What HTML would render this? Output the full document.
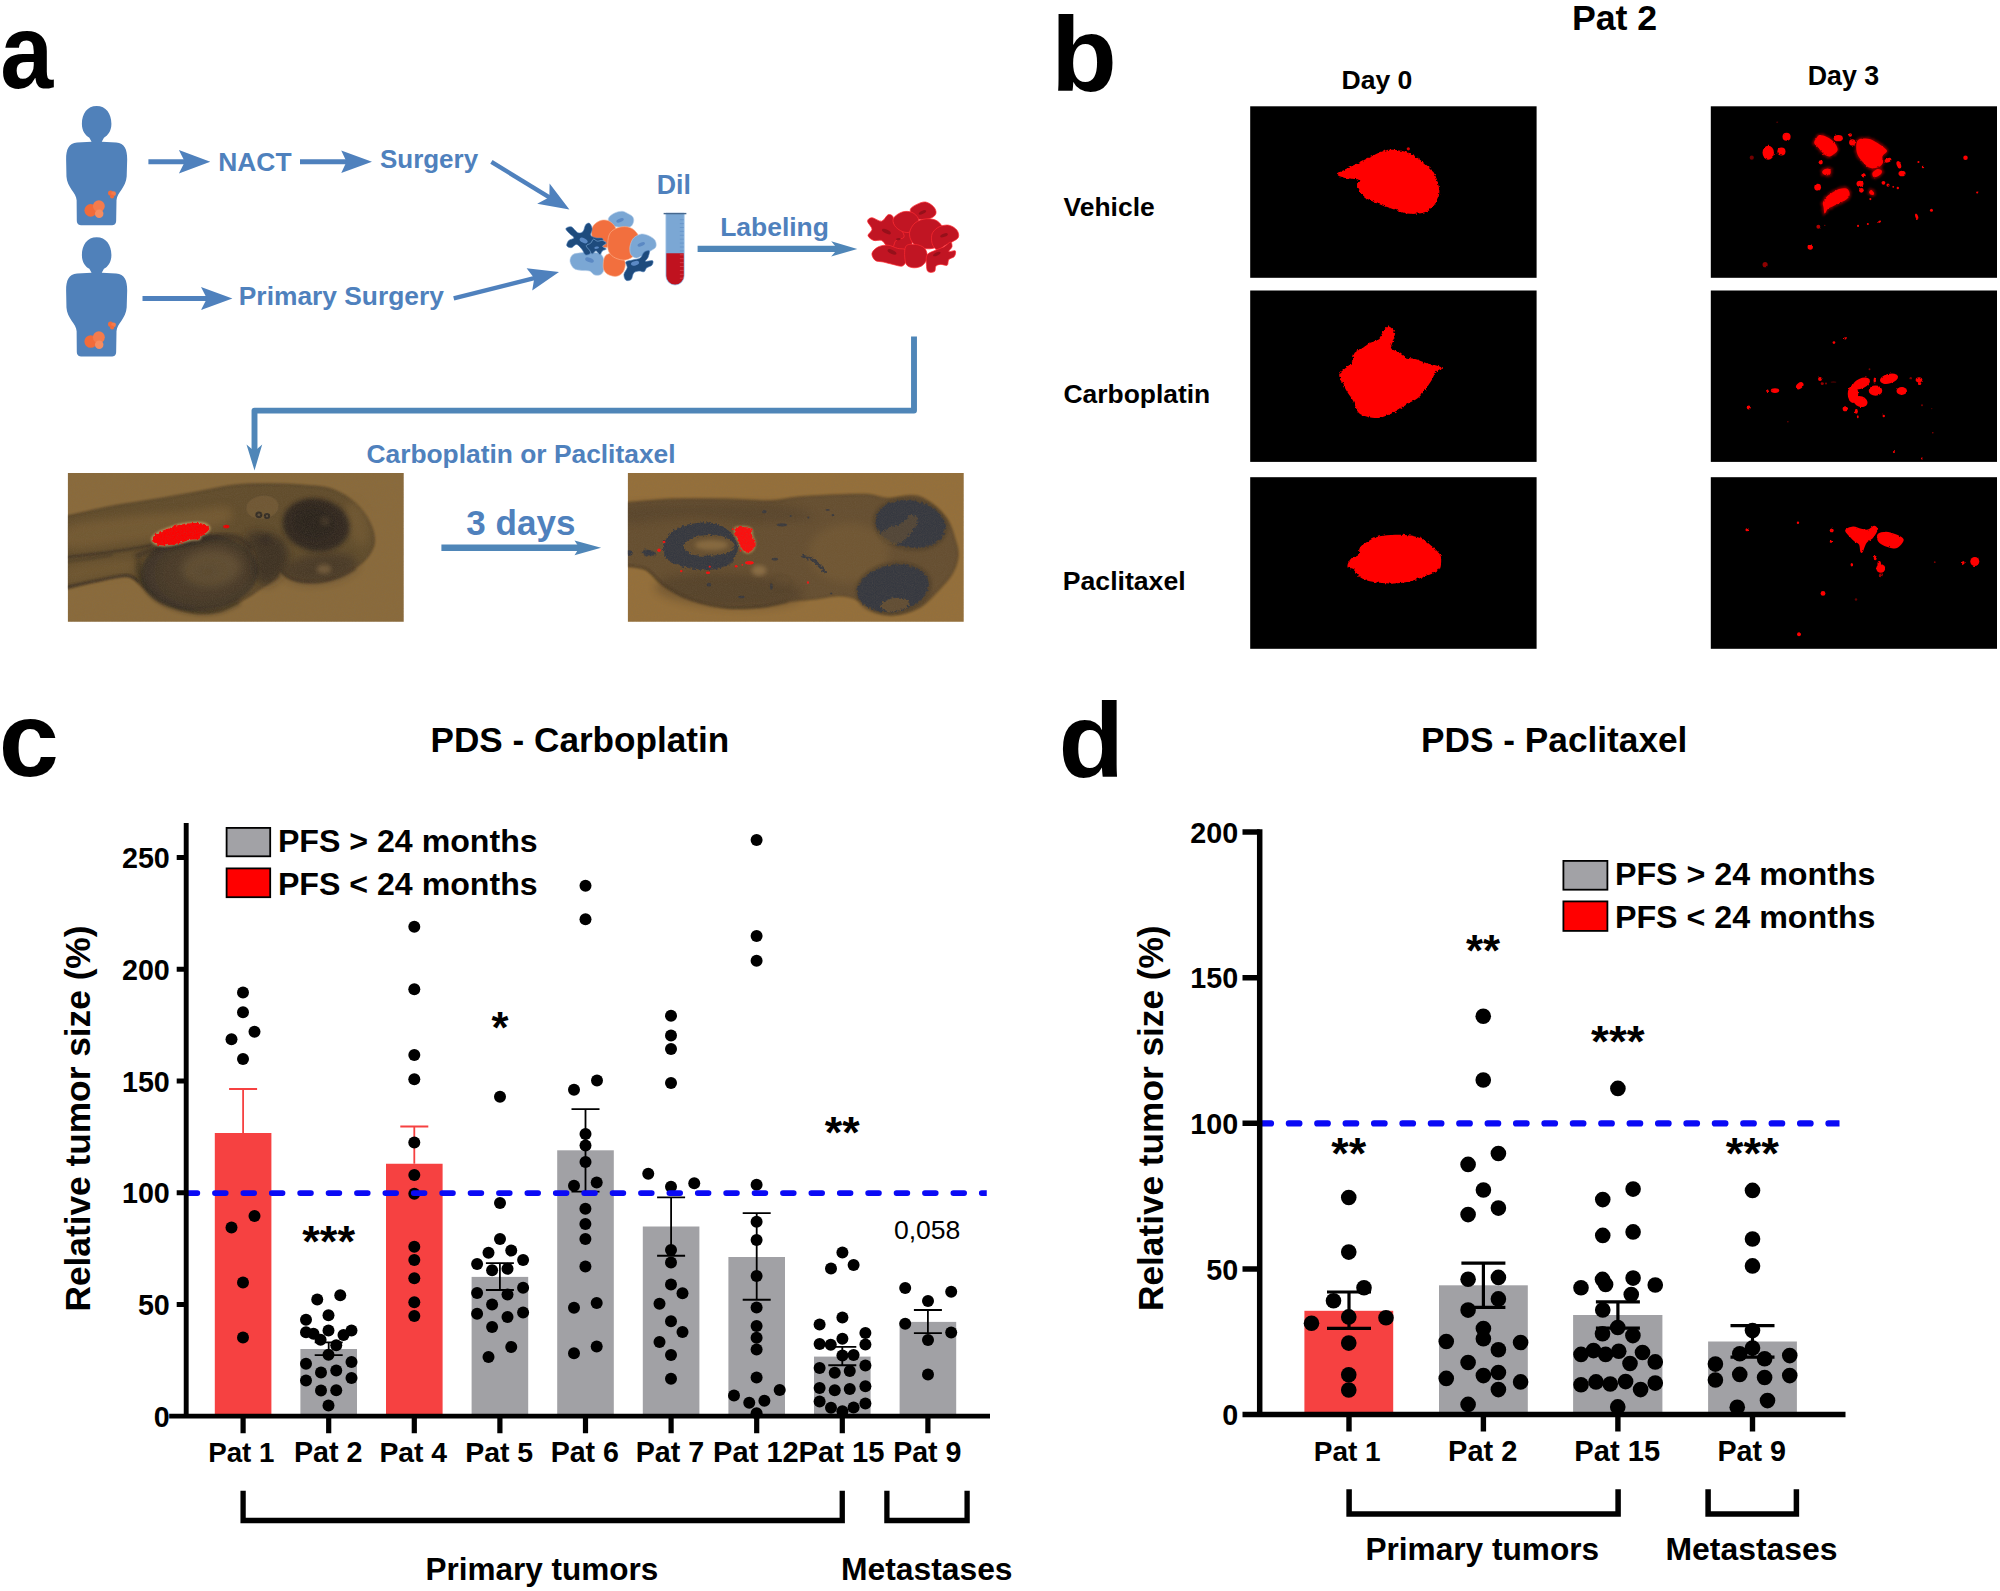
<!DOCTYPE html>
<html><head><meta charset="utf-8"><title>Figure</title>
<style>html,body{margin:0;padding:0;background:#fff}svg{display:block}text{font-family:"Liberation Sans",Arial,Helvetica,sans-serif}</style>
</head><body>
<svg width="2000" height="1591" viewBox="0 0 2000 1591">
<rect width="2000" height="1591" fill="#fff"/>
<g id="panel-a">
<path d="M96.65,106.03 C105.98,106.03 111.41,113.66 111.41,123.84 C111.41,131.47 107.68,135.71 103.94,137.75 L101.74,141.65 L116.16,142.50 C124.64,143.35 127.18,149.28 127.18,159.46 L126.68,176.42 C126.00,187.45 117.01,192.54 116.50,200.17 L116.16,220.53 C116.16,223.92 114.46,225.28 111.07,225.28 L82.23,225.28 C78.84,225.28 76.80,223.92 76.80,220.53 L76.63,200.17 C76.29,192.54 66.96,187.45 66.45,176.42 L66.12,159.46 C66.12,149.28 68.66,143.35 77.14,142.50 L91.56,141.65 L89.36,137.75 C85.62,135.71 81.89,131.47 81.89,123.84 C81.89,113.66 87.32,106.03 96.65,106.03 Z" fill="#5081ba"/>
<circle cx="90.71" cy="210.35" r="6.28" fill="#f26b3a"/>
<circle cx="98.85" cy="206.11" r="5.94" fill="#f47b4c"/>
<circle cx="99.19" cy="213.74" r="4.24" fill="#f68c60"/>
<circle cx="110.56" cy="193.05" r="2.54" fill="#f26b3a"/>
<circle cx="113.61" cy="193.73" r="2.37" fill="#f47b4c"/>
<circle cx="112.09" cy="196.44" r="2.04" fill="#f26b3a"/>
<path d="M96.65,237.13 C105.98,237.13 111.41,244.76 111.41,254.94 C111.41,262.57 107.68,266.81 103.94,268.85 L101.74,272.75 L116.16,273.60 C124.64,274.45 127.18,280.38 127.18,290.56 L126.68,307.52 C126.00,318.55 117.01,323.64 116.50,331.27 L116.16,351.63 C116.16,355.02 114.46,356.38 111.07,356.38 L82.23,356.38 C78.84,356.38 76.80,355.02 76.80,351.63 L76.63,331.27 C76.29,323.64 66.96,318.55 66.45,307.52 L66.12,290.56 C66.12,280.38 68.66,274.45 77.14,273.60 L91.56,272.75 L89.36,268.85 C85.62,266.81 81.89,262.57 81.89,254.94 C81.89,244.76 87.32,237.13 96.65,237.13 Z" fill="#5081ba"/>
<circle cx="90.71" cy="341.45" r="6.28" fill="#f26b3a"/>
<circle cx="98.85" cy="337.21" r="5.94" fill="#f47b4c"/>
<circle cx="99.19" cy="344.84" r="4.24" fill="#f68c60"/>
<circle cx="110.56" cy="324.15" r="2.54" fill="#f26b3a"/>
<circle cx="113.61" cy="324.83" r="2.37" fill="#f47b4c"/>
<circle cx="112.09" cy="327.54" r="2.04" fill="#f26b3a"/>
<path d="M148.40,161.70 L185.80,161.70" stroke="#4f81bd" stroke-width="5.00" fill="none"/>
<path d="M210.30,161.70 L178.90,173.40 L184.80,161.70 L178.90,150.00 Z" fill="#4f81bd"/>
<path d="M300.00,161.75 L347.50,161.75" stroke="#4f81bd" stroke-width="5.00" fill="none"/>
<path d="M372.00,161.75 L341.25,173.05 L346.50,161.75 L341.25,150.45 Z" fill="#4f81bd"/>
<path d="M142.50,298.50 L207.90,298.50" stroke="#4f81bd" stroke-width="5.00" fill="none"/>
<path d="M232.40,298.50 L201.00,309.90 L206.90,298.50 L201.00,287.10 Z" fill="#4f81bd"/>
<path d="M491.40,161.90 L550.20,197.86" stroke="#4f81bd" stroke-width="4.40" fill="none"/>
<path d="M569.40,209.60 L537.17,203.84 L549.35,197.34 L549.59,183.54 Z" fill="#4f81bd"/>
<path d="M453.70,298.40 L535.24,277.96" stroke="#4f81bd" stroke-width="4.40" fill="none"/>
<path d="M559.00,272.00 L532.21,290.57 L534.27,278.20 L526.62,268.26 Z" fill="#4f81bd"/>
<path d="M697.60,248.90 L838.60,248.90" stroke="#4f86b8" stroke-width="6.40" fill="none"/>
<path d="M857.30,248.90 L831.20,256.50 L837.60,248.90 L831.20,241.30 Z" fill="#4f86b8"/>
<path d="M441.40,547.80 L580.30,547.80" stroke="#4f86b8" stroke-width="6.60" fill="none"/>
<path d="M601.10,547.80 L574.50,555.20 L579.30,547.80 L574.50,540.40 Z" fill="#4f86b8"/>
<path d="M914,336.4 V410.6 H254.5 V452" stroke="#4f86b8" stroke-width="5.9" fill="none" stroke-linejoin="round"/>
<path d="M254.5,470.5 L246.5,444.5 L254.5,451.2 L262.2,444.5 Z" fill="#4f86b8"/>
<text transform="translate(0.14,88.00) scale(0.9079,1)" font-size="105.00" font-weight="bold" fill="#000">a</text>
<text transform="translate(218.28,170.75) scale(1.0000,1)" font-size="26.39" font-weight="bold" fill="#4f81bd">NACT</text>
<text transform="translate(379.97,168.00) scale(1.0000,1)" font-size="25.97" font-weight="bold" fill="#4f81bd">Surgery</text>
<text transform="translate(238.79,305.00) scale(1.0000,1)" font-size="26.36" font-weight="bold" fill="#4f81bd">Primary Surgery</text>
<text transform="translate(656.66,194.00) scale(1.0000,1)" font-size="26.72" font-weight="bold" fill="#4f81bd">Dil</text>
<text transform="translate(720.18,235.60) scale(1.0000,1)" font-size="26.46" font-weight="bold" fill="#4f81bd">Labeling</text>
<text transform="translate(366.45,462.50) scale(1.0000,1)" font-size="26.36" font-weight="bold" fill="#4f81bd">Carboplatin or Paclitaxel</text>
<text transform="translate(466.37,535.20) scale(1.0000,1)" font-size="35.06" font-weight="bold" fill="#4f81bd">3 days</text>
<path d="M608.36,218.40 C609.01,216.45 611.93,214.40 614.21,213.20 C616.48,212.01 619.84,211.25 622.01,211.25 C624.17,211.25 625.47,212.34 627.21,213.20 C628.94,214.07 631.32,215.15 632.41,216.45 C633.49,217.75 633.92,219.38 633.71,221.00 C633.49,222.63 632.62,225.12 631.11,226.20 C629.59,227.29 626.99,227.40 624.61,227.50 C622.22,227.61 619.19,227.29 616.81,226.85 C614.42,226.42 611.72,226.31 610.31,224.90 C608.90,223.50 607.71,220.35 608.36,218.40Z" fill="#7ba7d4" stroke="#b3cdea" stroke-width="0.60"/>
<ellipse cx="620.06" cy="220.35" rx="3.90" ry="1.82" fill="#5b89c4" transform="rotate(-20 620.06 220.35)"/>
<path d="M570.01,261.31 C569.79,259.03 570.87,256.21 572.61,254.80 C574.34,253.40 577.59,253.29 580.41,252.85 C583.22,252.42 586.26,252.10 589.51,252.20 C592.76,252.31 597.48,252.20 599.91,253.50 C602.33,254.80 603.31,257.62 604.07,260.01 C604.82,262.39 604.93,265.42 604.46,267.81 C603.98,270.19 602.83,273.11 601.21,274.31 C599.58,275.50 596.66,275.50 594.71,274.96 C592.76,274.41 591.67,271.81 589.51,271.06 C587.34,270.30 584.31,270.84 581.71,270.41 C579.11,269.97 575.86,269.97 573.91,268.46 C571.96,266.94 570.22,263.58 570.01,261.31Z" fill="#7ba7d4" stroke="#b3cdea" stroke-width="0.60"/>
<ellipse cx="589.51" cy="260.01" rx="4.55" ry="2.21" fill="#5b89c4" transform="rotate(20 589.51 260.01)"/>
<path d="M591.46,234.00 C591.02,230.86 591.78,227.83 593.41,225.55 C595.03,223.28 598.61,221.11 601.21,220.35 C603.81,219.60 606.62,219.81 609.01,221.00 C611.39,222.20 614.21,224.90 615.51,227.50 C616.81,230.10 617.24,233.79 616.81,236.60 C616.37,239.42 614.86,242.56 612.91,244.40 C610.96,246.25 607.92,247.65 605.11,247.65 C602.29,247.65 598.28,246.68 596.01,244.40 C593.73,242.13 591.89,237.15 591.46,234.00Z" fill="#f26f3e" stroke="#fbb794" stroke-width="0.60"/>
<path d="M603.16,265.21 C603.26,262.71 603.48,258.16 605.11,256.11 C606.73,254.05 610.31,253.07 612.91,252.85 C615.51,252.64 618.65,253.18 620.71,254.80 C622.77,256.43 624.82,259.79 625.26,262.61 C625.69,265.42 624.72,269.43 623.31,271.71 C621.90,273.98 619.19,275.71 616.81,276.26 C614.42,276.80 611.07,275.82 609.01,274.96 C606.95,274.09 605.43,272.68 604.46,271.06 C603.48,269.43 603.05,267.70 603.16,265.21Z" fill="#f26f3e" stroke="#fbb794" stroke-width="0.60"/>
<path d="M607.71,243.10 C607.92,239.85 608.36,235.35 610.31,232.70 C612.26,230.06 616.16,228.11 619.41,227.24 C622.66,226.38 626.77,226.38 629.81,227.50 C632.84,228.63 635.94,231.19 637.61,234.00 C639.28,236.82 640.25,240.94 639.82,244.40 C639.38,247.87 637.33,252.20 635.01,254.80 C632.69,257.41 629.16,259.46 625.91,260.01 C622.66,260.55 618.32,259.36 615.51,258.06 C612.69,256.76 610.31,254.70 609.01,252.20 C607.71,249.71 607.49,246.35 607.71,243.10Z" fill="#f26f3e" stroke="#fbb794" stroke-width="0.60"/>
<path d="M630.46,244.40 C631.11,242.45 631.87,239.64 633.71,237.90 C635.55,236.17 638.91,234.33 641.51,234.00 C644.11,233.68 647.03,234.87 649.31,235.95 C651.58,237.04 654.08,238.66 655.16,240.50 C656.24,242.35 656.57,245.27 655.81,247.00 C655.05,248.74 652.56,249.60 650.61,250.90 C648.66,252.20 646.49,253.61 644.11,254.80 C641.72,256.00 638.47,258.06 636.31,258.06 C634.14,258.06 632.19,256.21 631.11,254.80 C630.02,253.40 629.92,251.34 629.81,249.60 C629.70,247.87 629.81,246.35 630.46,244.40Z" fill="#7ba7d4" stroke="#b3cdea" stroke-width="0.60"/>
<ellipse cx="641.25" cy="244.40" rx="3.90" ry="1.82" fill="#5b89c4" transform="rotate(-20 641.25 244.40)"/>
<path d="M565.85,228.80 C566.06,227.61 569.31,226.20 571.31,226.85 C573.30,227.50 575.86,231.95 577.81,232.70 C579.76,233.46 581.71,232.70 583.01,231.40 C584.31,230.10 584.52,226.25 585.61,224.90 C586.69,223.56 588.42,222.69 589.51,223.34 C590.59,223.99 591.89,226.81 592.11,228.80 C592.32,230.80 590.16,233.79 590.81,235.30 C591.46,236.82 594.06,237.36 596.01,237.90 C597.96,238.45 601.53,237.69 602.51,238.55 C603.48,239.42 603.37,242.13 601.86,243.10 C600.34,244.08 595.46,243.75 593.41,244.40 C591.35,245.05 589.94,245.60 589.51,247.00 C589.07,248.41 591.46,251.55 590.81,252.85 C590.16,254.15 587.12,255.46 585.61,254.80 C584.09,254.15 583.22,250.69 581.71,248.95 C580.19,247.22 578.24,244.62 576.51,244.40 C574.77,244.19 572.93,247.44 571.31,247.65 C569.68,247.87 567.19,246.90 566.76,245.70 C566.32,244.51 567.51,241.80 568.71,240.50 C569.90,239.20 573.69,238.99 573.91,237.90 C574.12,236.82 571.35,235.52 570.01,234.00 C568.66,232.49 565.63,230.00 565.85,228.80Z" fill="#1e4b7d" stroke="#4a7ab5" stroke-width="0.60"/>
<ellipse cx="583.66" cy="240.50" rx="4.29" ry="2.34" fill="#5b89c4" transform="rotate(25 583.66 240.50)"/>
<path d="M586.26,245.70 C586.47,244.51 589.61,244.19 590.81,243.10 C592.00,242.02 592.32,239.53 593.41,239.20 C594.49,238.88 595.79,240.94 597.31,241.15 C598.82,241.37 600.99,240.18 602.51,240.50 C604.02,240.83 606.41,242.13 606.41,243.10 C606.41,244.08 602.51,245.38 602.51,246.35 C602.51,247.33 606.41,248.20 606.41,248.95 C606.41,249.71 603.59,249.93 602.51,250.90 C601.42,251.88 600.99,254.80 599.91,254.80 C598.82,254.80 597.31,251.01 596.01,250.90 C594.71,250.80 593.19,254.26 592.11,254.15 C591.02,254.05 590.48,251.66 589.51,250.25 C588.53,248.85 586.04,246.90 586.26,245.70Z" fill="#1e4b7d" stroke="#7ba7d4" stroke-width="0.70"/>
<ellipse cx="596.66" cy="247.65" rx="2.34" ry="1.17" fill="#5b89c4" transform="rotate(-10 596.66 247.65)"/>
<path d="M625.91,261.96 C626.77,260.66 630.02,260.66 632.41,260.01 C634.79,259.36 638.26,259.36 640.21,258.06 C642.16,256.76 642.59,253.40 644.11,252.20 C645.62,251.01 648.66,250.04 649.31,250.90 C649.96,251.77 648.66,255.67 648.01,257.41 C647.36,259.14 644.65,260.76 645.41,261.31 C646.17,261.85 651.48,260.01 652.56,260.66 C653.64,261.31 652.88,264.01 651.91,265.21 C650.93,266.40 648.01,266.72 646.71,267.81 C645.41,268.89 645.41,271.16 644.11,271.71 C642.81,272.25 640.64,270.84 638.91,271.06 C637.17,271.27 635.01,271.60 633.71,273.01 C632.41,274.41 632.41,278.31 631.11,279.51 C629.81,280.70 627.10,281.02 625.91,280.16 C624.72,279.29 623.74,276.36 623.96,274.31 C624.17,272.25 626.88,269.86 627.21,267.81 C627.53,265.75 625.04,263.26 625.91,261.96Z" fill="#1e4b7d" stroke="#4a7ab5" stroke-width="0.60"/>
<ellipse cx="635.01" cy="263.26" rx="4.16" ry="2.21" fill="#5b89c4" transform="rotate(-15 635.01 263.26)"/>
<path d="M665.95,213.20 V275.87 A9.10,9.10 0 0 0 684.15,275.87 V213.20 Z" fill="#7ba7d4" stroke="#9dc0e6" stroke-width="0.8"/>
<path d="M666.35,253.24 V275.87 A8.70,8.70 0 0 0 683.75,275.87 V253.24 Z" fill="#c0121f"/>
<path d="M663.61,213.59 H686.36" stroke="#47698f" stroke-width="1.4"/>
<path d="M679.86,219.70 H683.89 M679.86,223.60 H683.89 M679.86,227.50 H683.89 M679.86,231.40 H683.89 M679.86,235.30 H683.89 M679.86,239.20 H683.89 M679.86,243.10 H683.89 M679.86,247.00 H683.89 M679.86,250.90 H683.89 " stroke="#5b89c4" stroke-width="0.5" fill="none"/>
<path d="M679.86,254.80 H683.89 M679.86,258.71 H683.89 M679.86,262.61 H683.89 M679.86,266.51 H683.89 M679.86,270.41 H683.89 M679.86,274.31 H683.89 M679.86,278.21 H683.89 " stroke="#e0606a" stroke-width="0.5" fill="none"/>
<path d="M886.40,230.80 C889.60,227.07 902.93,225.47 907.20,227.60 C911.47,229.73 912.53,239.33 912.00,243.60 C911.47,247.87 908.00,252.13 904.00,253.20 C900.00,254.27 890.93,253.73 888.00,250.00 C885.07,246.27 883.20,234.53 886.40,230.80Z" fill="#c11523" stroke="#ff2b30" stroke-width="0.70"/>
<path d="M910.40,209.20 C911.07,207.33 914.27,205.60 916.80,204.40 C919.33,203.20 922.80,201.60 925.60,202.00 C928.40,202.40 931.87,204.93 933.60,206.80 C935.33,208.67 936.40,211.33 936.00,213.20 C935.60,215.07 933.87,216.93 931.20,218.00 C928.53,219.07 923.07,220.00 920.00,219.60 C916.93,219.20 914.40,217.33 912.80,215.60 C911.20,213.87 909.73,211.07 910.40,209.20Z" fill="#c11523" stroke="#ff2b30" stroke-width="0.70"/>
<path d="M867.52,221.20 C867.52,219.28 869.65,217.68 872.00,217.68 C874.35,217.68 878.93,221.68 881.60,221.20 C884.27,220.72 886.13,215.60 888.00,214.80 C889.87,214.00 891.73,214.80 892.80,216.40 C893.87,218.00 893.07,222.27 894.40,224.40 C895.73,226.53 899.20,227.07 900.80,229.20 C902.40,231.33 904.80,235.33 904.00,237.20 C903.20,239.07 897.87,238.80 896.00,240.40 C894.13,242.00 894.40,246.00 892.80,246.80 C891.20,247.60 888.27,246.27 886.40,245.20 C884.53,244.13 883.73,241.20 881.60,240.40 C879.47,239.60 875.87,241.20 873.60,240.40 C871.33,239.60 868.27,237.47 868.00,235.60 C867.73,233.73 872.08,231.60 872.00,229.20 C871.92,226.80 867.52,223.12 867.52,221.20Z" fill="#c11523" stroke="#ff2b30" stroke-width="0.70"/>
<path d="M893.60,218.00 C894.93,215.79 899.33,212.85 902.40,211.92 C905.47,210.99 909.33,211.25 912.00,212.40 C914.67,213.55 917.60,216.27 918.40,218.80 C919.20,221.33 918.40,225.33 916.80,227.60 C915.20,229.87 911.47,231.87 908.80,232.40 C906.13,232.93 903.20,232.00 900.80,230.80 C898.40,229.60 895.60,227.33 894.40,225.20 C893.20,223.07 892.27,220.21 893.60,218.00Z" fill="#c11523" stroke="#ff2b30" stroke-width="0.70"/>
<path d="M872.00,253.20 C872.53,250.93 875.73,248.13 878.40,246.80 C881.07,245.47 884.80,244.93 888.00,245.20 C891.20,245.47 894.67,247.60 897.60,248.40 C900.53,249.20 904.13,248.13 905.60,250.00 C907.07,251.87 906.93,256.93 906.40,259.60 C905.87,262.27 904.67,265.20 902.40,266.00 C900.13,266.80 896.00,265.07 892.80,264.40 C889.60,263.73 886.13,262.67 883.20,262.00 C880.27,261.33 877.07,261.87 875.20,260.40 C873.33,258.93 871.47,255.47 872.00,253.20Z" fill="#c11523" stroke="#ff2b30" stroke-width="0.70"/>
<path d="M909.60,232.40 C910.13,229.20 912.40,225.07 915.20,222.80 C918.00,220.53 922.67,219.07 926.40,218.80 C930.13,218.53 934.67,219.20 937.60,221.20 C940.53,223.20 943.20,227.33 944.00,230.80 C944.80,234.27 944.27,239.07 942.40,242.00 C940.53,244.93 936.53,247.47 932.80,248.40 C929.07,249.33 923.47,248.67 920.00,247.60 C916.53,246.53 913.73,244.53 912.00,242.00 C910.27,239.47 909.07,235.60 909.60,232.40Z" fill="#c11523" stroke="#ff2b30" stroke-width="0.70"/>
<path d="M905.60,246.80 C907.20,243.73 912.00,244.13 915.20,244.40 C918.40,244.67 922.80,246.13 924.80,248.40 C926.80,250.67 927.73,255.07 927.20,258.00 C926.67,260.93 924.13,264.40 921.60,266.00 C919.07,267.60 914.67,268.13 912.00,267.60 C909.33,267.07 906.67,266.27 905.60,262.80 C904.53,259.33 904.00,249.87 905.60,246.80Z" fill="#c11523" stroke="#ff2b30" stroke-width="0.70"/>
<path d="M932.80,232.40 C934.08,230.40 936.53,228.00 939.20,226.80 C941.87,225.60 945.87,224.67 948.80,225.20 C951.73,225.73 955.20,228.00 956.80,230.00 C958.40,232.00 959.20,235.20 958.40,237.20 C957.60,239.20 954.13,240.67 952.00,242.00 C949.87,243.33 948.00,243.87 945.60,245.20 C943.20,246.53 939.73,250.00 937.60,250.00 C935.47,250.00 933.81,247.07 932.80,245.20 C931.79,243.33 931.52,240.93 931.52,238.80 C931.52,236.67 931.52,234.40 932.80,232.40Z" fill="#c11523" stroke="#ff2b30" stroke-width="0.70"/>
<path d="M927.20,254.80 C928.80,252.40 933.20,251.33 936.00,250.00 C938.80,248.67 941.60,248.13 944.00,246.80 C946.40,245.47 949.07,242.00 950.40,242.00 C951.73,242.00 952.27,245.20 952.00,246.80 C951.73,248.40 948.27,250.93 948.80,251.60 C949.33,252.27 954.27,250.00 955.20,250.80 C956.13,251.60 955.47,254.93 954.40,256.40 C953.33,257.87 950.00,258.13 948.80,259.60 C947.60,261.07 948.53,264.40 947.20,265.20 C945.87,266.00 942.67,264.27 940.80,264.40 C938.93,264.53 937.07,264.80 936.00,266.00 C934.93,267.20 935.73,270.67 934.40,271.60 C933.07,272.53 929.33,272.80 928.00,271.60 C926.67,270.40 926.53,267.20 926.40,264.40 C926.27,261.60 925.60,257.20 927.20,254.80Z" fill="#c11523" stroke="#ff2b30" stroke-width="0.70"/>
<ellipse cx="922.40" cy="212.40" rx="4.00" ry="1.60" fill="#96101a" transform="rotate(-25 922.40 212.40)"/>
<ellipse cx="886.40" cy="231.60" rx="4.80" ry="1.92" fill="#96101a" transform="rotate(25 886.40 231.60)"/>
<ellipse cx="944.00" cy="235.28" rx="4.00" ry="1.60" fill="#96101a" transform="rotate(-20 944.00 235.28)"/>
<ellipse cx="892.00" cy="251.92" rx="4.80" ry="1.92" fill="#96101a" transform="rotate(25 892.00 251.92)"/>
<ellipse cx="936.80" cy="254.00" rx="4.00" ry="1.60" fill="#96101a" transform="rotate(-25 936.80 254.00)"/>
<ellipse cx="898.40" cy="239.12" rx="2.40" ry="1.12" fill="#96101a" transform="rotate(-10 898.40 239.12)"/>
<defs><filter id="fb2" x="-20%" y="-20%" width="140%" height="140%"><feGaussianBlur stdDeviation="2"/></filter><filter id="fb4" x="-30%" y="-30%" width="160%" height="160%"><feGaussianBlur stdDeviation="4"/></filter><filter id="fb1" x="-20%" y="-20%" width="140%" height="140%"><feGaussianBlur stdDeviation="1"/></filter><filter id="fb05" x="-20%" y="-20%" width="140%" height="140%"><feGaussianBlur stdDeviation="0.5"/></filter><filter id="grain" x="0" y="0" width="100%" height="100%"><feTurbulence type="fractalNoise" baseFrequency="0.9" numOctaves="2" seed="7"/><feColorMatrix type="matrix" values="0 0 0 0 0.2  0 0 0 0 0.15  0 0 0 0 0.1  0.5 0.5 0 0 -0.35"/></filter><filter id="eyetex" x="-5%" y="-5%" width="110%" height="110%"><feTurbulence type="fractalNoise" baseFrequency="0.45" numOctaves="2" seed="11" result="n"/><feDisplacementMap in="SourceGraphic" in2="n" scale="5" xChannelSelector="R" yChannelSelector="G"/><feGaussianBlur stdDeviation="0.45"/></filter><radialGradient id="yolkg" cx="0.55" cy="0.5" r="0.6"><stop offset="0" stop-color="#8a6c40" stop-opacity="0.0"/><stop offset="0.7" stop-color="#4a3c2c" stop-opacity="0.35"/><stop offset="1" stop-color="#2e2822" stop-opacity="0.75"/></radialGradient><radialGradient id="eyeg" cx="0.5" cy="0.5" r="0.5"><stop offset="0" stop-color="#3a3128" stop-opacity="0.8"/><stop offset="0.75" stop-color="#2c2620" stop-opacity="0.85"/><stop offset="1" stop-color="#2c2620" stop-opacity="0.2"/></radialGradient><clipPath id="cf1"><rect x="67.9" y="472.9" width="335.8" height="148.8"/></clipPath><clipPath id="cf2"><rect x="627.9" y="472.9" width="335.8" height="148.8"/></clipPath></defs>
<g clip-path="url(#cf1)">
<rect x="67" y="472" width="338" height="151" fill="#8b6b3b"/>
<path d="M52.96,517.80 C55.45,505.48 57.95,517.94 67.92,516.04 C77.89,514.13 97.99,509.15 112.80,506.36 C127.61,503.57 142.13,501.81 156.80,499.32 C171.46,496.83 187.60,493.75 200.80,491.40 C214.00,489.05 224.26,486.47 235.99,485.24 C247.73,484.01 259.46,483.92 271.19,484.01 C282.93,484.10 296.13,484.83 306.39,485.77 C316.66,486.71 324.58,486.65 332.79,489.64 C341.00,492.63 349.51,498.15 355.67,503.72 C361.83,509.29 366.67,516.63 369.75,523.08 C372.83,529.53 374.74,536.57 374.15,542.44 C373.56,548.30 370.19,553.58 366.23,558.28 C362.27,562.97 356.26,567.08 350.39,570.60 C344.52,574.12 338.36,577.49 331.03,579.40 C323.70,581.30 313.43,582.33 306.39,582.04 C299.35,581.74 293.19,579.54 288.79,577.64 C284.39,575.73 282.05,570.60 279.99,570.60 C277.94,570.60 279.41,574.85 276.47,577.64 C273.54,580.42 267.67,583.80 262.39,587.32 C257.11,590.84 252.13,594.80 244.79,598.76 C237.46,602.72 227.19,608.88 218.39,611.08 C209.60,613.28 200.80,613.42 192.00,611.96 C183.20,610.49 173.81,606.53 165.60,602.28 C157.38,598.02 149.17,590.84 142.72,586.44 C136.26,582.04 134.80,576.76 126.88,575.88 C118.96,575.00 105.03,579.10 95.20,581.16 C85.37,583.21 74.96,586.73 67.92,588.20 C60.88,589.66 55.45,601.69 52.96,589.96 C50.47,578.22 50.47,530.12 52.96,517.80Z" fill="#33291e" opacity="0.46" filter="url(#fb1)"/>
<path d="M52.96,517.80 C55.45,505.48 57.95,517.94 67.92,516.04 C77.89,514.13 97.99,509.15 112.80,506.36 C127.61,503.57 142.13,501.81 156.80,499.32 C171.46,496.83 187.60,493.75 200.80,491.40 C214.00,489.05 224.26,486.47 235.99,485.24 C247.73,484.01 259.46,483.92 271.19,484.01 C282.93,484.10 296.13,484.83 306.39,485.77 C316.66,486.71 324.58,486.65 332.79,489.64 C341.00,492.63 349.51,498.15 355.67,503.72 C361.83,509.29 366.67,516.63 369.75,523.08 C372.83,529.53 374.74,536.57 374.15,542.44 C373.56,548.30 370.19,553.58 366.23,558.28 C362.27,562.97 356.26,567.08 350.39,570.60 C344.52,574.12 338.36,577.49 331.03,579.40 C323.70,581.30 313.43,582.33 306.39,582.04 C299.35,581.74 293.19,579.54 288.79,577.64 C284.39,575.73 282.05,570.60 279.99,570.60 C277.94,570.60 279.41,574.85 276.47,577.64 C273.54,580.42 267.67,583.80 262.39,587.32 C257.11,590.84 252.13,594.80 244.79,598.76 C237.46,602.72 227.19,608.88 218.39,611.08 C209.60,613.28 200.80,613.42 192.00,611.96 C183.20,610.49 173.81,606.53 165.60,602.28 C157.38,598.02 149.17,590.84 142.72,586.44 C136.26,582.04 134.80,576.76 126.88,575.88 C118.96,575.00 105.03,579.10 95.20,581.16 C85.37,583.21 74.96,586.73 67.92,588.20 C60.88,589.66 55.45,601.69 52.96,589.96 C50.47,578.22 50.47,530.12 52.96,517.80Z" fill="none" stroke="#2e261e" stroke-width="1.5" opacity="0.38" filter="url(#fb1)"/>
<path d="M67.92,526.60 C78.33,521.32 111.19,518.53 130.40,516.04 C149.61,513.55 167.06,513.11 183.20,511.64 C199.33,510.17 219.86,505.33 227.19,507.24 C234.53,509.15 234.53,518.68 227.19,523.08 C219.86,527.48 199.33,530.41 183.20,533.64 C167.06,536.86 149.61,540.09 130.40,542.44 C111.19,544.78 78.33,550.36 67.92,547.72 C57.51,545.08 57.51,531.88 67.92,526.60Z" fill="#8b6b3b" opacity="0.45" filter="url(#fb4)"/>
<path d="M67.92,567.08 C75.40,563.26 101.80,561.21 112.80,560.04 C123.80,558.86 130.98,557.98 133.92,560.04 C136.85,562.09 136.85,569.42 130.40,572.36 C123.94,575.29 105.61,575.88 95.20,577.64 C84.79,579.40 72.47,584.68 67.92,582.92 C63.37,581.16 60.44,570.89 67.92,567.08Z" fill="#8b6b3b" opacity="0.35" filter="url(#fb4)"/>
<ellipse cx="357.43" cy="523.08" rx="10.56" ry="22.88" transform="rotate(-15 357.43 523.08)" fill="#8b6b3b" opacity="0.35" filter="url(#fb4)"/>
<path d="M65.28,557.40 C70.27,556.81 84.93,555.20 95.20,553.88 C105.47,552.56 117.49,550.94 126.88,549.48 C136.26,548.01 147.41,545.81 151.52,545.08" fill="none" stroke="#2a2420" stroke-width="2.2" opacity="0.6" filter="url(#fb1)"/>
<path d="M65.28,561.80 C68.80,561.36 78.48,560.33 86.40,559.16 C94.32,557.98 108.40,555.49 112.80,554.76" fill="none" stroke="#2a2420" stroke-width="1.4" opacity="0.5" filter="url(#fb1)"/>
<path d="M65.28,587.32 C70.27,586.29 84.93,583.12 95.20,581.16 C105.47,579.19 119.54,575.38 126.88,575.52 C134.21,575.67 137.14,580.95 139.20,582.04" fill="none" stroke="#2a2420" stroke-width="2.4" opacity="0.6" filter="url(#fb1)"/>
<ellipse cx="199.04" cy="572.71" rx="58.96" ry="37.84" transform="rotate(-4 199.04 572.71)" fill="#2a2622" opacity="0.55" filter="url(#fb1)"/>
<path d="M139.20,560.04 C139.20,562.38 137.73,569.13 139.20,574.12 C140.66,579.10 143.60,584.97 148.00,589.96 C152.40,594.94 157.97,600.37 165.60,604.04 C173.22,607.70 184.96,610.78 193.76,611.96 C202.56,613.13 210.77,612.69 218.39,611.08 C226.02,609.46 235.99,603.74 239.51,602.28" fill="none" stroke="#1e1b18" stroke-width="4" opacity="0.5" filter="url(#fb2)"/>
<ellipse cx="200.80" cy="572.36" rx="58.08" ry="37.31" transform="rotate(-4 200.80 572.36)" fill="url(#yolkg)" filter="url(#fb2)"/>
<ellipse cx="211.36" cy="567.96" rx="29.92" ry="18.48" transform="rotate(-4 211.36 567.96)" fill="#9a7a48" opacity="0.27" filter="url(#fb4)"/>
<path d="M135.68,556.52 C139.49,555.05 149.17,550.06 158.56,547.72 C167.94,545.37 182.02,544.34 192.00,542.44 C201.97,540.53 210.48,536.86 218.39,536.28 C226.31,535.69 233.94,536.72 239.51,538.92 C245.09,541.12 249.78,547.72 251.83,549.48" fill="none" stroke="#241f1b" stroke-width="5" opacity="0.55" filter="url(#fb2)"/>
<path d="M246.55,535.40 C248.02,531.29 256.53,531.29 262.39,531.88 C268.26,532.46 277.35,534.81 281.75,538.92 C286.15,543.02 288.79,550.65 288.79,556.52 C288.79,562.38 285.27,569.42 281.75,574.12 C278.23,578.81 272.07,584.09 267.67,584.68 C263.27,585.26 257.70,582.33 255.35,577.64 C253.01,572.94 255.06,563.56 253.59,556.52 C252.13,549.48 245.09,539.50 246.55,535.40Z" fill="#241f1b" opacity="0.55" filter="url(#fb4)"/>
<ellipse cx="320.47" cy="567.96" rx="36.96" ry="14.96" transform="rotate(-8 320.47 567.96)" fill="#2a2420" opacity="0.42" filter="url(#fb4)"/>
<ellipse cx="323.99" cy="569.19" rx="7.39" ry="4.58" fill="#b08c58" opacity="0.38" filter="url(#fb2)"/>
<path d="M279.99,570.60 C282.05,572.06 286.45,577.40 292.31,579.40 C298.18,581.39 307.57,582.86 315.19,582.56 C322.82,582.27 331.32,579.92 338.07,577.64 C344.82,575.35 352.74,570.30 355.67,568.84" fill="none" stroke="#2a2420" stroke-width="1.5" opacity="0.5" filter="url(#fb1)"/>
<ellipse cx="316.07" cy="524.84" rx="33.79" ry="26.40" transform="rotate(10 316.07 524.84)" fill="#241f1a" opacity="0.74" filter="url(#fb2)"/>
<ellipse cx="313.43" cy="523.08" rx="21.12" ry="16.72" transform="rotate(10 313.43 523.08)" fill="#1e1a17" opacity="0.35" filter="url(#fb4)"/>
<ellipse cx="324.87" cy="520.97" rx="4.93" ry="4.58" fill="#6a553a" opacity="0.35" filter="url(#fb2)"/>
<ellipse cx="262.39" cy="507.24" rx="16.72" ry="11.97" transform="rotate(-8 262.39 507.24)" fill="#96764a" opacity="0.30" stroke="#4a3d2e" stroke-width="0.7" filter="url(#fb05)"/>
<ellipse cx="258.87" cy="514.81" rx="3.52" ry="3.34" fill="#2a2622" opacity="0.85" filter="url(#fb05)"/>
<ellipse cx="266.97" cy="516.04" rx="3.17" ry="2.99" fill="#2a2622" opacity="0.85" filter="url(#fb05)"/>
<ellipse cx="258.87" cy="514.81" rx="1.41" ry="1.41" fill="#6a5a44" opacity="0.8"/>
<ellipse cx="266.97" cy="516.04" rx="1.23" ry="1.23" fill="#6a5a44" opacity="0.8"/>
<ellipse cx="265.91" cy="538.92" rx="6.16" ry="5.28" fill="#2a2420" opacity="0.35" filter="url(#fb2)"/>
<path d="M152.40,538.04 C153.13,536.42 155.77,534.37 158.56,532.76 C161.34,531.14 165.60,529.68 169.12,528.36 C172.64,527.04 175.57,525.72 179.68,524.84 C183.78,523.96 189.65,523.22 193.76,523.08 C197.86,522.93 201.73,523.08 204.32,523.96 C206.90,524.84 208.95,526.89 209.24,528.36 C209.54,529.82 207.48,531.58 206.08,532.76 C204.67,533.93 201.97,534.37 200.80,535.40 C199.62,536.42 200.80,538.18 199.04,538.92 C197.28,539.65 193.17,539.21 190.24,539.80 C187.30,540.38 184.96,541.56 181.44,542.44 C177.92,543.32 172.78,544.64 169.12,545.08 C165.45,545.52 161.93,545.52 159.44,545.08 C156.94,544.64 155.33,543.61 154.16,542.44 C152.98,541.26 151.66,539.65 152.40,538.04Z" fill="#c9a86a" stroke="#c9a86a" stroke-width="2.4" opacity="0.8" filter="url(#fb1)"/>
<path d="M152.40,538.04 C153.13,536.42 155.77,534.37 158.56,532.76 C161.34,531.14 165.60,529.68 169.12,528.36 C172.64,527.04 175.57,525.72 179.68,524.84 C183.78,523.96 189.65,523.22 193.76,523.08 C197.86,522.93 201.73,523.08 204.32,523.96 C206.90,524.84 208.95,526.89 209.24,528.36 C209.54,529.82 207.48,531.58 206.08,532.76 C204.67,533.93 201.97,534.37 200.80,535.40 C199.62,536.42 200.80,538.18 199.04,538.92 C197.28,539.65 193.17,539.21 190.24,539.80 C187.30,540.38 184.96,541.56 181.44,542.44 C177.92,543.32 172.78,544.64 169.12,545.08 C165.45,545.52 161.93,545.52 159.44,545.08 C156.94,544.64 155.33,543.61 154.16,542.44 C152.98,541.26 151.66,539.65 152.40,538.04Z" fill="#ff0000" filter="url(#rough)"/>
<ellipse cx="226.31" cy="526.60" rx="3.17" ry="1.76" fill="#f00000" filter="url(#fb05)"/>
<rect x="67" y="472" width="338" height="151" filter="url(#grain)" opacity="0.55"/>
</g>
<g clip-path="url(#cf2)">
<rect x="627" y="472" width="338" height="151" fill="#96703a"/>
<path d="M612.96,502.84 C615.45,492.43 617.95,503.43 627.92,502.84 C637.89,502.25 656.52,499.91 672.80,499.32 C689.08,498.73 709.46,499.03 725.60,499.32 C741.73,499.61 757.86,501.37 769.60,501.08 C781.33,500.79 785.73,498.53 795.99,497.56 C806.26,496.59 819.46,495.77 831.19,495.27 C842.93,494.77 857.01,494.04 866.39,494.57 C875.78,495.10 878.71,498.09 887.51,498.44 C896.31,498.79 909.51,493.45 919.19,496.68 C928.87,499.91 939.58,510.47 945.59,517.80 C951.60,525.13 953.22,534.22 955.27,540.68 C957.32,547.13 958.50,550.94 957.91,556.52 C957.32,562.09 955.27,568.25 951.75,574.12 C948.23,579.98 942.22,586.14 936.79,591.72 C931.36,597.29 926.23,603.74 919.19,607.56 C912.15,611.37 901.88,614.01 894.55,614.60 C887.22,615.18 881.06,613.42 875.19,611.08 C869.33,608.73 865.22,603.10 859.35,600.52 C853.49,597.93 847.62,595.82 839.99,595.59 C832.37,595.35 822.39,598.14 813.59,599.11 C804.79,600.08 795.99,600.13 787.19,601.40 C778.39,602.66 771.06,605.71 760.80,606.68 C750.53,607.64 737.33,608.46 725.60,607.20 C713.86,605.94 700.66,602.80 690.40,599.11 C680.13,595.41 671.33,590.01 664.00,585.03 C656.67,580.04 652.41,572.42 646.40,569.19 C640.39,565.96 633.49,566.31 627.92,565.67 C622.35,565.02 615.45,575.79 612.96,565.32 C610.47,554.85 610.47,513.25 612.96,502.84Z" fill="#3a322a" opacity="0.52" filter="url(#fb1)"/>
<path d="M612.96,502.84 C615.45,492.43 617.95,503.43 627.92,502.84 C637.89,502.25 656.52,499.91 672.80,499.32 C689.08,498.73 709.46,499.03 725.60,499.32 C741.73,499.61 757.86,501.37 769.60,501.08 C781.33,500.79 785.73,498.53 795.99,497.56 C806.26,496.59 819.46,495.77 831.19,495.27 C842.93,494.77 857.01,494.04 866.39,494.57 C875.78,495.10 878.71,498.09 887.51,498.44 C896.31,498.79 909.51,493.45 919.19,496.68 C928.87,499.91 939.58,510.47 945.59,517.80 C951.60,525.13 953.22,534.22 955.27,540.68 C957.32,547.13 958.50,550.94 957.91,556.52 C957.32,562.09 955.27,568.25 951.75,574.12 C948.23,579.98 942.22,586.14 936.79,591.72 C931.36,597.29 926.23,603.74 919.19,607.56 C912.15,611.37 901.88,614.01 894.55,614.60 C887.22,615.18 881.06,613.42 875.19,611.08 C869.33,608.73 865.22,603.10 859.35,600.52 C853.49,597.93 847.62,595.82 839.99,595.59 C832.37,595.35 822.39,598.14 813.59,599.11 C804.79,600.08 795.99,600.13 787.19,601.40 C778.39,602.66 771.06,605.71 760.80,606.68 C750.53,607.64 737.33,608.46 725.60,607.20 C713.86,605.94 700.66,602.80 690.40,599.11 C680.13,595.41 671.33,590.01 664.00,585.03 C656.67,580.04 652.41,572.42 646.40,569.19 C640.39,565.96 633.49,566.31 627.92,565.67 C622.35,565.02 615.45,575.79 612.96,565.32 C610.47,554.85 610.47,513.25 612.96,502.84Z" fill="none" stroke="#2e261e" stroke-width="1.5" opacity="0.35" filter="url(#fb1)"/>
<path d="M627.92,505.48 C641.27,502.11 682.92,502.99 708.00,502.84 C733.08,502.69 760.80,502.11 778.39,504.60 C795.99,507.09 816.53,514.72 813.59,517.80 C810.66,520.88 781.33,523.08 760.80,523.08 C740.26,523.08 712.54,517.80 690.40,517.80 C668.25,517.80 638.33,525.13 627.92,523.08 C617.51,521.02 614.57,508.85 627.92,505.48Z" fill="#3a2e22" opacity="0.25" filter="url(#fb4)"/>
<ellipse cx="729.12" cy="590.84" rx="73.92" ry="16.72" transform="rotate(3 729.12 590.84)" fill="#3a2e22" opacity="0.33" filter="url(#fb4)"/>
<path d="M627.92,565.67 C631.00,566.34 640.39,566.40 646.40,569.72 C652.41,573.03 656.67,580.57 664.00,585.56 C671.33,590.54 680.13,595.97 690.40,599.64 C700.66,603.30 713.86,606.35 725.60,607.56 C737.33,608.76 750.53,607.79 760.80,606.85 C771.06,605.91 782.79,602.74 787.19,601.92" fill="none" stroke="#2e261e" stroke-width="2" opacity="0.4" filter="url(#fb1)"/>
<ellipse cx="848.79" cy="553.00" rx="40.48" ry="29.92" fill="#93703b" opacity="0.25" filter="url(#fb4)"/>
<path d="M663.12,547.72 C663.50,543.90 665.61,538.86 668.40,535.40 C671.19,531.94 674.70,529.06 679.84,526.95 C684.97,524.84 692.74,523.14 699.20,522.73 C705.65,522.32 713.42,522.96 718.56,524.49 C723.69,526.01 726.83,528.89 730.00,531.88 C733.16,534.87 736.48,538.77 737.56,542.44 C738.65,546.10 737.92,550.36 736.51,553.88 C735.10,557.40 732.70,561.00 729.12,563.56 C725.54,566.11 720.61,568.25 715.04,569.19 C709.46,570.13 701.84,569.83 695.68,569.19 C689.52,568.54 683.01,567.14 678.08,565.32 C673.15,563.50 668.60,561.21 666.11,558.28 C663.62,555.34 662.74,551.53 663.12,547.72Z M683.71,547.37 C683.12,544.73 686.35,540.97 690.40,538.92 C694.45,536.86 702.13,535.34 708.00,535.05 C713.86,534.75 721.20,535.63 725.60,537.16 C730.00,538.68 733.22,542.14 734.40,544.20 C735.57,546.25 734.40,547.86 732.64,549.48 C730.88,551.09 727.94,552.85 723.84,553.88 C719.73,554.90 712.98,555.49 708.00,555.64 C703.01,555.78 697.97,556.14 693.92,554.76 C689.87,553.38 684.30,550.01 683.71,547.37Z" fill="#343740" fill-rule="evenodd" filter="url(#eyetex)"/>
<ellipse cx="711.52" cy="545.08" rx="16.72" ry="5.28" fill="#a8844e" opacity="0.5" filter="url(#fb2)"/>
<ellipse cx="649.04" cy="553.00" rx="7.39" ry="2.99" transform="rotate(10 649.04 553.00)" fill="#343740" filter="url(#eyetex)"/>
<ellipse cx="628.80" cy="553.00" rx="3.87" ry="2.82" fill="#343740" filter="url(#eyetex)"/>
<ellipse cx="723.84" cy="562.68" rx="10.56" ry="3.87" transform="rotate(-15 723.84 562.68)" fill="#343740" opacity="0.8" filter="url(#eyetex)"/>
<ellipse cx="910.39" cy="524.31" rx="38.37" ry="26.75" transform="rotate(10 910.39 524.31)" fill="#4a3a26" opacity="0.5" filter="url(#fb1)"/>
<ellipse cx="910.39" cy="523.96" rx="35.20" ry="23.58" transform="rotate(10 910.39 523.96)" fill="#343740" filter="url(#eyetex)"/>
<path d="M878.71,535.40 C879.59,533.05 883.70,530.41 887.51,528.36 C891.32,526.30 897.78,525.28 901.59,523.08 C905.40,520.88 907.75,516.04 910.39,515.16 C913.03,514.28 916.55,515.89 917.43,517.80 C918.31,519.70 917.14,523.66 915.67,526.60 C914.20,529.53 910.98,532.76 908.63,535.40 C906.28,538.04 904.52,540.97 901.59,542.44 C898.66,543.90 894.26,544.20 891.03,544.20 C887.80,544.20 884.28,543.90 882.23,542.44 C880.18,540.97 877.83,537.74 878.71,535.40Z" fill="#6a5232" opacity="0.55" filter="url(#eyetex)"/>
<ellipse cx="893.67" cy="588.20" rx="39.07" ry="26.75" transform="rotate(-10 893.67 588.20)" fill="#4a3a26" opacity="0.5" filter="url(#fb1)"/>
<ellipse cx="893.14" cy="588.20" rx="36.08" ry="23.23" transform="rotate(-10 893.14 588.20)" fill="#343740" filter="url(#eyetex)"/>
<path d="M880.47,605.80 C880.47,603.89 884.28,600.96 887.51,599.64 C890.74,598.32 896.31,597.58 899.83,597.88 C903.35,598.17 907.16,600.08 908.63,601.40 C910.10,602.72 910.10,604.33 908.63,605.80 C907.16,607.26 903.35,609.32 899.83,610.20 C896.31,611.08 890.74,611.81 887.51,611.08 C884.28,610.34 880.47,607.70 880.47,605.80Z" fill="#6a5232" opacity="0.85" filter="url(#eyetex)"/>
<path d="M802.15,555.64 C803.77,556.22 808.75,557.25 811.83,559.16 C814.91,561.06 818.43,564.88 820.63,567.08 C822.83,569.28 824.30,571.48 825.03,572.36" fill="none" stroke="#343740" stroke-width="3.2" opacity="0.9" filter="url(#eyetex)"/>
<ellipse cx="764.32" cy="511.64" rx="2.29" ry="1.58" fill="#343740" opacity="0.85" filter="url(#fb05)"/>
<ellipse cx="790.71" cy="516.04" rx="1.06" ry="1.06" fill="#343740" opacity="0.85" filter="url(#fb05)"/>
<ellipse cx="808.31" cy="517.45" rx="1.06" ry="1.06" fill="#343740" opacity="0.85" filter="url(#fb05)"/>
<ellipse cx="781.91" cy="524.84" rx="5.28" ry="1.58" fill="#343740" opacity="0.85" filter="url(#fb05)"/>
<ellipse cx="832.95" cy="515.16" rx="1.41" ry="1.06" fill="#343740" opacity="0.85" filter="url(#fb05)"/>
<ellipse cx="708.88" cy="584.68" rx="2.29" ry="1.94" fill="#343740" opacity="0.85" filter="url(#fb05)"/>
<ellipse cx="741.44" cy="597.00" rx="3.17" ry="1.23" fill="#343740" opacity="0.85" filter="url(#fb05)"/>
<ellipse cx="771.36" cy="586.44" rx="1.41" ry="3.17" fill="#343740" opacity="0.85" filter="url(#fb05)"/>
<ellipse cx="831.19" cy="593.48" rx="1.06" ry="0.88" fill="#343740" opacity="0.85" filter="url(#fb05)"/>
<ellipse cx="774.88" cy="559.16" rx="3.17" ry="1.41" fill="#343740" opacity="0.85" filter="url(#fb05)"/>
<ellipse cx="827.67" cy="509.88" rx="2.11" ry="0.88" fill="#343740" opacity="0.85" filter="url(#fb05)"/>
<ellipse cx="759.04" cy="570.60" rx="7.39" ry="5.28" fill="#b08c58" opacity="0.5" filter="url(#fb2)"/>
<ellipse cx="781.03" cy="582.92" rx="10.56" ry="7.92" fill="none" stroke="#4a3a26" stroke-width="1" opacity="0.4" filter="url(#fb1)"/>
<path d="M736.16,527.48 C738.65,526.60 747.60,527.04 750.24,528.36 C752.88,529.68 751.26,533.05 752.00,535.40 C752.73,537.74 754.49,540.09 754.64,542.44 C754.78,544.78 754.20,547.81 752.88,549.48 C751.56,551.15 748.62,552.76 746.72,552.47 C744.81,552.18 742.90,549.98 741.44,547.72 C739.97,545.46 738.94,541.26 737.92,538.92 C736.89,536.57 735.57,535.54 735.28,533.64 C734.98,531.73 733.66,528.36 736.16,527.48Z" fill="#d6a860" stroke="#d6a860" stroke-width="2.2" opacity="0.6" filter="url(#fb1)"/>
<path d="M736.16,527.48 C738.65,526.60 747.60,527.04 750.24,528.36 C752.88,529.68 751.26,533.05 752.00,535.40 C752.73,537.74 754.49,540.09 754.64,542.44 C754.78,544.78 754.20,547.81 752.88,549.48 C751.56,551.15 748.62,552.76 746.72,552.47 C744.81,552.18 742.90,549.98 741.44,547.72 C739.97,545.46 738.94,541.26 737.92,538.92 C736.89,536.57 735.57,535.54 735.28,533.64 C734.98,531.73 733.66,528.36 736.16,527.48Z" fill="#ff1010" filter="url(#rough)"/>
<ellipse cx="749.36" cy="562.68" rx="4.40" ry="1.76" fill="#ff1010" filter="url(#fb05)"/>
<ellipse cx="659.07" cy="550.36" rx="1.76" ry="1.76" fill="#ff1010" filter="url(#fb05)"/>
<ellipse cx="664.00" cy="541.91" rx="1.41" ry="1.06" fill="#ff1010" filter="url(#fb05)"/>
<ellipse cx="681.25" cy="571.12" rx="1.23" ry="1.23" fill="#ff1010" filter="url(#fb05)"/>
<ellipse cx="708.00" cy="572.71" rx="2.11" ry="1.23" fill="#ff1010" filter="url(#fb05)"/>
<ellipse cx="736.16" cy="566.20" rx="1.41" ry="1.23" fill="#ff1010" filter="url(#fb05)"/>
<ellipse cx="742.32" cy="564.79" rx="0.88" ry="0.88" fill="#ff1010" filter="url(#fb05)"/>
<ellipse cx="807.96" cy="582.56" rx="1.06" ry="1.23" fill="#ff1010" filter="url(#fb05)"/>
<ellipse cx="732.64" cy="529.24" rx="0.88" ry="0.88" fill="#ff1010" filter="url(#fb05)"/>
<ellipse cx="740.56" cy="550.71" rx="0.88" ry="0.88" fill="#ff1010" filter="url(#fb05)"/>
<ellipse cx="709.76" cy="566.72" rx="1.06" ry="0.88" fill="#ff1010" filter="url(#fb05)"/>
<rect x="627" y="472" width="338" height="151" filter="url(#grain)" opacity="0.5"/>
</g>
</g>
<g id="panel-b">
<defs><filter id="bl1" x="-20%" y="-20%" width="140%" height="140%"><feGaussianBlur stdDeviation="0.7"/></filter><filter id="bl2" x="-30%" y="-30%" width="160%" height="160%"><feGaussianBlur stdDeviation="1.2"/></filter><filter id="rough" x="-10%" y="-10%" width="120%" height="120%"><feTurbulence type="fractalNoise" baseFrequency="0.35" numOctaves="2" seed="3" result="n"/><feDisplacementMap in="SourceGraphic" in2="n" scale="3.5" xChannelSelector="R" yChannelSelector="G"/><feGaussianBlur stdDeviation="0.5"/></filter></defs>
<rect x="1250.20" y="106.30" width="286.40" height="171.50" fill="#000"/>
<rect x="1710.80" y="106.30" width="286.20" height="171.50" fill="#000"/>
<rect x="1250.20" y="290.50" width="286.40" height="171.40" fill="#000"/>
<rect x="1710.80" y="290.50" width="286.20" height="171.40" fill="#000"/>
<rect x="1250.20" y="477.20" width="286.40" height="171.60" fill="#000"/>
<rect x="1710.80" y="477.20" width="286.20" height="171.60" fill="#000"/>
<path d="M1337.65,174.05 C1338.68,172.50 1344.63,169.92 1348.50,167.85 C1352.38,165.78 1356.77,163.72 1360.90,161.65 C1365.03,159.58 1368.91,157.39 1373.30,155.45 C1377.69,153.51 1382.60,150.80 1387.25,150.03 C1391.90,149.25 1396.81,149.90 1401.20,150.80 C1405.59,151.70 1409.73,153.38 1413.60,155.45 C1417.48,157.52 1421.09,160.36 1424.45,163.20 C1427.81,166.04 1431.43,168.88 1433.75,172.50 C1436.08,176.12 1437.50,181.28 1438.40,184.90 C1439.30,188.52 1439.69,191.10 1439.18,194.20 C1438.66,197.30 1436.98,200.79 1435.30,203.50 C1433.62,206.21 1431.94,208.80 1429.10,210.48 C1426.26,212.15 1421.87,213.06 1418.25,213.58 C1414.63,214.09 1411.28,214.22 1407.40,213.58 C1403.53,212.93 1399.65,211.25 1395.00,209.70 C1390.35,208.15 1384.15,206.08 1379.50,204.28 C1374.85,202.47 1370.46,201.05 1367.10,198.85 C1363.74,196.65 1361.03,193.43 1359.35,191.10 C1357.67,188.78 1356.90,186.71 1357.03,184.90 C1357.15,183.09 1361.03,181.28 1360.13,180.25 C1359.22,179.22 1354.57,179.22 1351.60,178.70 C1348.63,178.18 1344.63,177.93 1342.30,177.15 C1339.98,176.38 1336.62,175.60 1337.65,174.05Z" fill="#ff0000" filter="url(#rough)"/>
<circle cx="1408.33" cy="148.79" r="1.6" fill="#d00"/>
<path d="M1339.20,374.55 C1339.72,372.23 1343.33,370.42 1345.40,368.35 C1347.47,366.28 1350.05,364.73 1351.60,362.15 C1353.15,359.57 1352.89,355.18 1354.70,352.85 C1356.51,350.53 1359.87,349.88 1362.45,348.20 C1365.03,346.52 1367.36,344.33 1370.20,342.78 C1373.04,341.23 1377.18,341.10 1379.50,338.90 C1381.83,336.70 1382.60,331.67 1384.15,329.60 C1385.70,327.53 1386.99,325.98 1388.80,326.50 C1390.61,327.02 1394.35,330.12 1395.00,332.70 C1395.65,335.28 1393.32,339.42 1392.68,342.00 C1392.03,344.58 1390.22,346.52 1391.13,348.20 C1392.03,349.88 1395.65,350.53 1398.10,352.08 C1400.55,353.63 1403.01,356.34 1405.85,357.50 C1408.69,358.66 1411.79,358.15 1415.15,359.05 C1418.51,359.95 1422.64,361.89 1426.00,362.93 C1429.36,363.96 1432.46,364.35 1435.30,365.25 C1438.14,366.15 1442.92,367.32 1443.05,368.35 C1443.18,369.38 1437.88,369.64 1436.08,371.45 C1434.27,373.26 1433.88,376.36 1432.20,379.20 C1430.52,382.04 1428.33,385.40 1426.00,388.50 C1423.68,391.60 1421.35,395.22 1418.25,397.80 C1415.15,400.38 1411.28,401.68 1407.40,404.00 C1403.53,406.33 1398.88,409.68 1395.00,411.75 C1391.13,413.82 1387.51,415.37 1384.15,416.40 C1380.79,417.43 1378.21,418.08 1374.85,417.95 C1371.49,417.82 1366.84,416.66 1364.00,415.63 C1361.16,414.59 1359.61,414.20 1357.80,411.75 C1355.99,409.30 1354.96,404.26 1353.15,400.90 C1351.34,397.54 1348.76,394.70 1346.95,391.60 C1345.14,388.50 1343.59,385.14 1342.30,382.30 C1341.01,379.46 1338.68,376.88 1339.20,374.55Z" fill="#ff0000" filter="url(#rough)"/>
<path d="M1347.73,564.20 C1348.24,562.65 1349.79,559.55 1351.60,558.00 C1353.41,556.45 1357.15,556.71 1358.58,554.90 C1360.00,553.09 1358.45,549.48 1360.13,547.15 C1361.80,544.83 1365.42,542.76 1368.65,540.95 C1371.88,539.14 1375.11,537.33 1379.50,536.30 C1383.89,535.27 1389.83,534.88 1395.00,534.75 C1400.17,534.62 1405.85,534.75 1410.50,535.53 C1415.15,536.30 1419.28,537.59 1422.90,539.40 C1426.52,541.21 1429.49,544.05 1432.20,546.38 C1434.91,548.70 1437.68,550.90 1439.18,553.35 C1440.67,555.80 1441.32,558.26 1441.19,561.10 C1441.06,563.94 1440.93,567.95 1438.40,570.40 C1435.87,572.85 1430.65,574.02 1426.00,575.83 C1421.35,577.63 1415.67,579.96 1410.50,581.25 C1405.33,582.54 1400.17,583.32 1395.00,583.58 C1389.83,583.83 1384.15,583.32 1379.50,582.80 C1374.85,582.28 1370.46,581.51 1367.10,580.48 C1363.74,579.44 1361.42,578.41 1359.35,576.60 C1357.28,574.79 1356.51,571.18 1354.70,569.63 C1352.89,568.08 1349.66,568.20 1348.50,567.30 C1347.34,566.40 1347.21,565.75 1347.73,564.20Z" fill="#ff0000" filter="url(#rough)"/>
<filter id="fuzz" x="-10%" y="-10%" width="120%" height="120%"><feTurbulence type="fractalNoise" baseFrequency="0.5" numOctaves="2" seed="5" result="n"/><feDisplacementMap in="SourceGraphic" in2="n" scale="2.2" xChannelSelector="R" yChannelSelector="G"/><feGaussianBlur stdDeviation="0.55"/></filter>
<filter id="halo" x="-20%" y="-20%" width="140%" height="140%"><feTurbulence type="fractalNoise" baseFrequency="0.6" numOctaves="2" seed="9" result="n"/><feDisplacementMap in="SourceGraphic" in2="n" scale="5" xChannelSelector="R" yChannelSelector="G"/><feGaussianBlur stdDeviation="1.3"/></filter>
<g filter="url(#halo)" opacity="0.45"><path d="M1814.15,142.40 C1814.15,140.77 1816.31,138.02 1817.30,136.80 C1818.29,135.57 1818.58,135.05 1820.10,135.05 C1821.62,135.05 1824.42,135.92 1826.40,136.80 C1828.38,137.67 1830.37,138.90 1832.00,140.30 C1833.63,141.70 1835.27,143.57 1836.20,145.20 C1837.13,146.83 1837.83,148.70 1837.60,150.10 C1837.37,151.50 1836.08,152.55 1834.80,153.60 C1833.52,154.65 1831.53,156.17 1829.90,156.40 C1828.27,156.63 1826.52,155.93 1825.00,155.00 C1823.48,154.07 1822.08,152.20 1820.80,150.80 C1819.52,149.40 1818.41,148.00 1817.30,146.60 C1816.19,145.20 1814.15,144.03 1814.15,142.40Z" fill="#ff0000" stroke="#ff0000" stroke-width="3"/><path d="M1857.20,141.00 C1858.37,138.96 1861.28,138.84 1863.50,138.55 C1865.72,138.26 1868.17,138.49 1870.50,139.25 C1872.83,140.01 1875.16,141.64 1877.50,143.10 C1879.83,144.56 1882.92,146.60 1884.50,148.00 C1886.07,149.40 1887.30,150.10 1886.95,151.50 C1886.60,152.90 1883.04,154.65 1882.40,156.40 C1881.76,158.15 1883.45,160.37 1883.10,162.00 C1882.75,163.63 1881.81,165.15 1880.30,166.20 C1878.78,167.25 1875.86,168.07 1874.00,168.30 C1872.13,168.53 1870.73,168.42 1869.10,167.60 C1867.47,166.78 1865.83,165.03 1864.20,163.40 C1862.57,161.77 1860.58,159.90 1859.30,157.80 C1858.02,155.70 1856.85,153.60 1856.50,150.80 C1856.15,148.00 1856.03,143.04 1857.20,141.00Z" fill="#ff0000" stroke="#ff0000" stroke-width="3"/><path d="M1872.60,172.50 C1873.30,171.22 1875.98,169.35 1877.50,169.00 C1879.01,168.65 1881.11,169.58 1881.70,170.40 C1882.28,171.22 1881.81,172.85 1881.00,173.90 C1880.18,174.95 1878.08,176.23 1876.80,176.70 C1875.51,177.17 1874.00,177.40 1873.30,176.70 C1872.60,176.00 1871.90,173.78 1872.60,172.50Z" fill="#ff0000" stroke="#ff0000" stroke-width="3"/><path d="M1822.20,171.80 C1822.43,170.92 1823.72,169.47 1825.00,169.00 C1826.28,168.53 1828.97,168.30 1829.90,169.00 C1830.83,169.70 1830.95,172.15 1830.60,173.20 C1830.25,174.25 1828.97,175.12 1827.80,175.30 C1826.63,175.47 1824.53,174.83 1823.60,174.25 C1822.67,173.67 1821.97,172.67 1822.20,171.80Z" fill="#ff0000" stroke="#ff0000" stroke-width="3"/><path d="M1822.90,202.60 C1823.37,200.85 1824.88,198.63 1826.40,197.00 C1827.92,195.37 1829.90,194.14 1832.00,192.80 C1834.10,191.46 1836.78,189.71 1839.00,188.95 C1841.22,188.19 1843.67,187.96 1845.30,188.25 C1846.93,188.54 1848.10,189.47 1848.80,190.70 C1849.50,191.92 1849.97,194.08 1849.50,195.60 C1849.03,197.12 1847.75,198.52 1846.00,199.80 C1844.25,201.08 1841.33,202.13 1839.00,203.30 C1836.67,204.46 1833.87,205.86 1832.00,206.80 C1830.13,207.73 1828.85,207.96 1827.80,208.90 C1826.75,209.83 1826.28,211.70 1825.70,212.40 C1825.12,213.10 1824.65,213.91 1824.30,213.10 C1823.95,212.28 1823.83,209.25 1823.60,207.50 C1823.37,205.75 1822.43,204.35 1822.90,202.60Z" fill="#ff0000" stroke="#ff0000" stroke-width="3"/><path d="M1869.10,192.10 C1869.22,191.34 1870.38,189.88 1871.20,190.00 C1872.02,190.12 1873.65,191.98 1874.00,192.80 C1874.35,193.62 1873.88,194.61 1873.30,194.90 C1872.72,195.19 1871.20,195.02 1870.50,194.55 C1869.80,194.08 1868.98,192.86 1869.10,192.10Z" fill="#ff0000" stroke="#ff0000" stroke-width="3"/></g>
<g filter="url(#fuzz)"><ellipse cx="1786.55" cy="136.70" rx="4.05" ry="4.05" fill="#ff0000"/><ellipse cx="1768.25" cy="152.75" rx="5.70" ry="6.90" fill="#ff0000"/><ellipse cx="1781.45" cy="151.55" rx="4.05" ry="4.05" fill="#ff0000"/><ellipse cx="1751.75" cy="157.70" rx="2.10" ry="2.10" fill="#ff0000" opacity="0.45"/><ellipse cx="1965.50" cy="157.70" rx="2.25" ry="2.25" fill="#ff0000"/><ellipse cx="1977.20" cy="192.50" rx="1.05" ry="1.05" fill="#ff0000"/><ellipse cx="1810.25" cy="246.95" rx="2.70" ry="2.70" fill="#ff0000"/><ellipse cx="1765.10" cy="264.65" rx="2.55" ry="2.55" fill="#ff0000" opacity="0.55"/><ellipse cx="1777.25" cy="122.15" rx="1.20" ry="0.75" fill="#ff0000" opacity="0.3"/><ellipse cx="1931.45" cy="210.20" rx="1.50" ry="1.50" fill="#ff0000"/><ellipse cx="1838.30" cy="138.20" rx="4.55" ry="3.15" fill="#ff0000"/><ellipse cx="1850.20" cy="135.05" rx="1.75" ry="1.75" fill="#ff0000"/><ellipse cx="1852.30" cy="142.40" rx="3.15" ry="3.15" fill="#ff0000"/><ellipse cx="1888.00" cy="160.25" rx="3.50" ry="2.10" fill="#ff0000" transform="rotate(-20 1888.00 160.25)"/><ellipse cx="1863.50" cy="175.30" rx="2.10" ry="2.10" fill="#ff0000"/><ellipse cx="1898.85" cy="164.80" rx="2.10" ry="3.85" fill="#ff0000" transform="rotate(-20 1898.85 164.80)"/><ellipse cx="1902.00" cy="173.55" rx="3.50" ry="2.80" fill="#ff0000"/><ellipse cx="1820.80" cy="162.35" rx="2.10" ry="2.10" fill="#ff0000"/><ellipse cx="1817.65" cy="187.20" rx="3.36" ry="3.36" fill="#ff0000"/><ellipse cx="1860.00" cy="183.70" rx="3.50" ry="2.94" fill="#ff0000"/><ellipse cx="1861.40" cy="190.35" rx="2.31" ry="2.31" fill="#ff0000"/><ellipse cx="1883.45" cy="182.79" rx="1.89" ry="1.89" fill="#ff0000"/><ellipse cx="1888.00" cy="185.10" rx="1.54" ry="1.54" fill="#ff0000"/><ellipse cx="1893.25" cy="186.85" rx="0.91" ry="0.91" fill="#ff0000"/><ellipse cx="1897.80" cy="188.04" rx="1.19" ry="1.19" fill="#ff0000"/><ellipse cx="1870.36" cy="199.10" rx="1.05" ry="1.05" fill="#ff0000"/><ellipse cx="1918.45" cy="162.00" rx="1.05" ry="1.05" fill="#ff0000"/><ellipse cx="1923.00" cy="167.04" rx="1.19" ry="1.19" fill="#ff0000"/><ellipse cx="1916.70" cy="216.60" rx="1.40" ry="3.15" fill="#ff0000" transform="rotate(-20 1916.70 216.60)"/><ellipse cx="1879.60" cy="221.64" rx="1.54" ry="1.05" fill="#ff0000" transform="rotate(-30 1879.60 221.64)"/><ellipse cx="1867.84" cy="223.95" rx="1.05" ry="1.05" fill="#ff0000"/><ellipse cx="1858.04" cy="225.91" rx="1.05" ry="1.05" fill="#ff0000"/><ellipse cx="1818.35" cy="226.75" rx="1.96" ry="1.96" fill="#ff0000" opacity="0.7"/><ellipse cx="1824.79" cy="225.35" rx="0.70" ry="0.70" fill="#ff0000" opacity="0.5"/><path d="M1814.15,142.40 C1814.15,140.77 1816.31,138.02 1817.30,136.80 C1818.29,135.57 1818.58,135.05 1820.10,135.05 C1821.62,135.05 1824.42,135.92 1826.40,136.80 C1828.38,137.67 1830.37,138.90 1832.00,140.30 C1833.63,141.70 1835.27,143.57 1836.20,145.20 C1837.13,146.83 1837.83,148.70 1837.60,150.10 C1837.37,151.50 1836.08,152.55 1834.80,153.60 C1833.52,154.65 1831.53,156.17 1829.90,156.40 C1828.27,156.63 1826.52,155.93 1825.00,155.00 C1823.48,154.07 1822.08,152.20 1820.80,150.80 C1819.52,149.40 1818.41,148.00 1817.30,146.60 C1816.19,145.20 1814.15,144.03 1814.15,142.40Z" fill="#ff0000"/><path d="M1857.20,141.00 C1858.37,138.96 1861.28,138.84 1863.50,138.55 C1865.72,138.26 1868.17,138.49 1870.50,139.25 C1872.83,140.01 1875.16,141.64 1877.50,143.10 C1879.83,144.56 1882.92,146.60 1884.50,148.00 C1886.07,149.40 1887.30,150.10 1886.95,151.50 C1886.60,152.90 1883.04,154.65 1882.40,156.40 C1881.76,158.15 1883.45,160.37 1883.10,162.00 C1882.75,163.63 1881.81,165.15 1880.30,166.20 C1878.78,167.25 1875.86,168.07 1874.00,168.30 C1872.13,168.53 1870.73,168.42 1869.10,167.60 C1867.47,166.78 1865.83,165.03 1864.20,163.40 C1862.57,161.77 1860.58,159.90 1859.30,157.80 C1858.02,155.70 1856.85,153.60 1856.50,150.80 C1856.15,148.00 1856.03,143.04 1857.20,141.00Z" fill="#ff0000"/><path d="M1872.60,172.50 C1873.30,171.22 1875.98,169.35 1877.50,169.00 C1879.01,168.65 1881.11,169.58 1881.70,170.40 C1882.28,171.22 1881.81,172.85 1881.00,173.90 C1880.18,174.95 1878.08,176.23 1876.80,176.70 C1875.51,177.17 1874.00,177.40 1873.30,176.70 C1872.60,176.00 1871.90,173.78 1872.60,172.50Z" fill="#ff0000"/><path d="M1822.20,171.80 C1822.43,170.92 1823.72,169.47 1825.00,169.00 C1826.28,168.53 1828.97,168.30 1829.90,169.00 C1830.83,169.70 1830.95,172.15 1830.60,173.20 C1830.25,174.25 1828.97,175.12 1827.80,175.30 C1826.63,175.47 1824.53,174.83 1823.60,174.25 C1822.67,173.67 1821.97,172.67 1822.20,171.80Z" fill="#ff0000"/><path d="M1822.90,202.60 C1823.37,200.85 1824.88,198.63 1826.40,197.00 C1827.92,195.37 1829.90,194.14 1832.00,192.80 C1834.10,191.46 1836.78,189.71 1839.00,188.95 C1841.22,188.19 1843.67,187.96 1845.30,188.25 C1846.93,188.54 1848.10,189.47 1848.80,190.70 C1849.50,191.92 1849.97,194.08 1849.50,195.60 C1849.03,197.12 1847.75,198.52 1846.00,199.80 C1844.25,201.08 1841.33,202.13 1839.00,203.30 C1836.67,204.46 1833.87,205.86 1832.00,206.80 C1830.13,207.73 1828.85,207.96 1827.80,208.90 C1826.75,209.83 1826.28,211.70 1825.70,212.40 C1825.12,213.10 1824.65,213.91 1824.30,213.10 C1823.95,212.28 1823.83,209.25 1823.60,207.50 C1823.37,205.75 1822.43,204.35 1822.90,202.60Z" fill="#ff0000"/><path d="M1869.10,192.10 C1869.22,191.34 1870.38,189.88 1871.20,190.00 C1872.02,190.12 1873.65,191.98 1874.00,192.80 C1874.35,193.62 1873.88,194.61 1873.30,194.90 C1872.72,195.19 1871.20,195.02 1870.50,194.55 C1869.80,194.08 1868.98,192.86 1869.10,192.10Z" fill="#ff0000"/></g>
<g filter="url(#fuzz)"><ellipse cx="1845.20" cy="338.35" rx="1.20" ry="1.20" fill="#ff0000"/><ellipse cx="1833.95" cy="342.55" rx="1.35" ry="1.35" fill="#ff0000"/><ellipse cx="1861.25" cy="383.50" rx="9.30" ry="5.10" fill="#ff0000" transform="rotate(-25 1861.25 383.50)"/><ellipse cx="1853.00" cy="394.00" rx="5.25" ry="9.00" fill="#ff0000"/><ellipse cx="1860.50" cy="401.50" rx="7.20" ry="5.25" fill="#ff0000" transform="rotate(20 1860.50 401.50)"/><ellipse cx="1875.50" cy="390.70" rx="6.75" ry="5.10" fill="#ff0000"/><ellipse cx="1889.00" cy="378.70" rx="9.30" ry="4.80" fill="#ff0000" transform="rotate(-15 1889.00 378.70)"/><ellipse cx="1901.75" cy="391.00" rx="5.25" ry="3.90" fill="#ff0000"/><ellipse cx="1919.00" cy="379.75" rx="3.30" ry="2.55" fill="#ff0000"/><ellipse cx="1919.75" cy="383.50" rx="1.50" ry="1.50" fill="#ff0000"/><ellipse cx="1910.75" cy="378.25" rx="1.20" ry="1.20" fill="#ff0000" opacity="0.5"/><ellipse cx="1820.00" cy="379.00" rx="1.95" ry="1.95" fill="#ff0000"/><ellipse cx="1822.25" cy="383.50" rx="1.50" ry="1.50" fill="#ff0000" opacity="0.6"/><ellipse cx="1826.00" cy="383.50" rx="1.05" ry="1.05" fill="#ff0000" opacity="0.5"/><ellipse cx="1833.50" cy="382.00" rx="3.00" ry="0.60" fill="#ff0000" opacity="0.4"/><ellipse cx="1799.75" cy="385.75" rx="4.20" ry="2.85" fill="#ff0000" transform="rotate(-40 1799.75 385.75)"/><ellipse cx="1775.00" cy="390.55" rx="4.20" ry="2.40" fill="#ff0000"/><ellipse cx="1767.35" cy="390.70" rx="1.20" ry="1.20" fill="#ff0000"/><ellipse cx="1748.75" cy="407.50" rx="1.95" ry="1.95" fill="#ff0000"/><ellipse cx="1845.20" cy="408.70" rx="2.55" ry="2.55" fill="#ff0000"/><ellipse cx="1856.30" cy="411.25" rx="1.50" ry="2.55" fill="#ff0000"/><ellipse cx="1857.80" cy="416.80" rx="0.90" ry="1.50" fill="#ff0000"/><ellipse cx="1883.75" cy="416.05" rx="1.20" ry="1.20" fill="#ff0000"/><ellipse cx="1787.90" cy="421.75" rx="0.75" ry="0.75" fill="#ff0000" opacity="0.5"/><ellipse cx="1922.00" cy="405.25" rx="1.05" ry="1.05" fill="#ff0000" opacity="0.45"/><ellipse cx="1931.75" cy="408.55" rx="0.60" ry="0.60" fill="#ff0000" opacity="0.4"/><ellipse cx="1932.80" cy="432.85" rx="0.75" ry="0.75" fill="#ff0000" opacity="0.6"/><ellipse cx="1893.95" cy="452.05" rx="1.05" ry="1.05" fill="#ff0000"/><ellipse cx="1922.00" cy="458.50" rx="1.05" ry="1.05" fill="#ff0000"/><ellipse cx="1874.75" cy="380.50" rx="1.20" ry="3.00" fill="#ff0000"/><ellipse cx="1869.50" cy="369.25" rx="0.90" ry="0.90" fill="#ff0000" opacity="0.5"/></g>
<g filter="url(#fuzz)"><ellipse cx="1746.95" cy="529.80" rx="1.50" ry="1.50" fill="#ff0000"/><ellipse cx="1797.95" cy="522.75" rx="1.20" ry="1.20" fill="#ff0000"/><ellipse cx="1831.70" cy="530.55" rx="1.95" ry="1.95" fill="#ff0000"/><ellipse cx="1830.95" cy="541.65" rx="1.20" ry="1.20" fill="#ff0000"/><ellipse cx="1875.20" cy="558.00" rx="1.50" ry="2.25" fill="#ff0000"/><ellipse cx="1851.80" cy="564.75" rx="1.20" ry="1.80" fill="#ff0000"/><ellipse cx="1880.75" cy="568.50" rx="4.50" ry="4.20" fill="#ff0000"/><ellipse cx="1879.25" cy="564.00" rx="1.80" ry="3.00" fill="#ff0000"/><ellipse cx="1880.75" cy="575.25" rx="1.80" ry="2.10" fill="#ff0000" opacity="0.6"/><ellipse cx="1823.00" cy="593.40" rx="2.40" ry="2.40" fill="#ff0000"/><ellipse cx="1799.00" cy="634.20" rx="1.95" ry="1.95" fill="#ff0000"/><ellipse cx="1974.80" cy="561.45" rx="4.50" ry="4.50" fill="#ff0000"/><ellipse cx="1963.25" cy="562.80" rx="1.35" ry="1.80" fill="#ff0000"/><ellipse cx="1934.75" cy="562.20" rx="0.90" ry="0.90" fill="#ff0000" opacity="0.5"/><ellipse cx="1856.00" cy="599.55" rx="1.20" ry="1.20" fill="#ff0000" opacity="0.4"/>
<path d="M1845.20,530.25 C1845.70,528.50 1850.32,526.75 1853.00,526.50 C1855.67,526.25 1858.75,528.25 1861.25,528.75 C1863.75,529.25 1865.87,530.00 1868.00,529.50 C1870.12,529.00 1872.37,525.87 1874.00,525.75 C1875.62,525.62 1877.37,527.50 1877.75,528.75 C1878.12,530.00 1877.12,531.62 1876.25,533.25 C1875.37,534.87 1874.12,536.87 1872.50,538.50 C1870.87,540.12 1868.12,540.75 1866.50,543.00 C1864.87,545.25 1863.75,550.50 1862.75,552.00 C1861.75,553.50 1861.12,553.25 1860.50,552.00 C1859.87,550.75 1860.00,546.25 1859.00,544.50 C1858.00,542.75 1856.00,542.75 1854.50,541.50 C1853.00,540.25 1851.55,538.87 1850.00,537.00 C1848.45,535.12 1844.70,532.00 1845.20,530.25Z" fill="#ff0000"/><path d="M1877.75,534.00 C1879.12,532.50 1883.12,531.75 1886.00,531.75 C1888.87,531.75 1892.25,533.00 1895.00,534.00 C1897.75,535.00 1901.12,536.50 1902.50,537.75 C1903.87,539.00 1904.00,539.87 1903.25,541.50 C1902.50,543.12 1899.87,546.37 1898.00,547.50 C1896.12,548.62 1894.50,548.62 1892.00,548.25 C1889.50,547.87 1885.37,546.50 1883.00,545.25 C1880.62,544.00 1878.62,542.62 1877.75,540.75 C1876.87,538.87 1876.37,535.50 1877.75,534.00Z" fill="#ff0000"/>
</g>
<text transform="translate(1050.99,91.00) scale(1.0278,1)" font-size="105.00" font-weight="bold" fill="#000">b</text>
<text transform="translate(1571.88,29.80) scale(1.0000,1)" font-size="35.71" font-weight="bold" fill="#000">Pat 2</text>
<text transform="translate(1341.52,88.75) scale(1.0000,1)" font-size="26.56" font-weight="bold" fill="#000">Day 0</text>
<text transform="translate(1807.76,85.30) scale(1.0000,1)" font-size="26.78" font-weight="bold" fill="#000">Day 3</text>
<text transform="translate(1063.62,215.50) scale(1.0000,1)" font-size="26.43" font-weight="bold" fill="#000">Vehicle</text>
<text transform="translate(1063.44,402.80) scale(1.0000,1)" font-size="26.43" font-weight="bold" fill="#000">Carboplatin</text>
<text transform="translate(1062.77,589.60) scale(1.0000,1)" font-size="26.63" font-weight="bold" fill="#000">Paclitaxel</text>
</g>
<g id="chart-c">
<rect x="214.80" y="1133.00" width="56.60" height="281.50" fill="#f64141"/>
<rect x="300.40" y="1349.00" width="56.60" height="65.50" fill="#a1a1a5"/>
<rect x="386.00" y="1163.75" width="56.60" height="250.75" fill="#f64141"/>
<rect x="471.60" y="1276.90" width="56.60" height="137.60" fill="#a1a1a5"/>
<rect x="557.20" y="1150.30" width="56.60" height="264.20" fill="#a1a1a5"/>
<rect x="642.80" y="1226.50" width="56.60" height="188.00" fill="#a1a1a5"/>
<rect x="728.40" y="1257.00" width="56.60" height="157.50" fill="#a1a1a5"/>
<rect x="814.00" y="1356.60" width="56.60" height="57.90" fill="#a1a1a5"/>
<rect x="899.60" y="1321.90" width="56.60" height="92.60" fill="#a1a1a5"/>
<path d="M243.10,1089.00 V1133.00 M229.10,1089.00 H257.10" stroke="#f64141" stroke-width="1.8" fill="none"/>
<path d="M328.70,1342.30 V1355.20 M314.70,1342.30 H342.70 M314.70,1355.20 H342.70" stroke="#000" stroke-width="1.8" fill="none"/>
<path d="M414.30,1126.50 V1163.75 M400.30,1126.50 H428.30" stroke="#f64141" stroke-width="1.8" fill="none"/>
<path d="M499.90,1263.20 V1290.00 M485.90,1263.20 H513.90 M485.90,1290.00 H513.90" stroke="#000" stroke-width="1.8" fill="none"/>
<path d="M585.50,1109.20 V1191.70 M571.50,1109.20 H599.50 M571.50,1191.70 H599.50" stroke="#000" stroke-width="1.8" fill="none"/>
<path d="M671.10,1197.30 V1255.75 M657.10,1197.30 H685.10 M657.10,1255.75 H685.10" stroke="#000" stroke-width="1.8" fill="none"/>
<path d="M756.70,1213.20 V1299.75 M742.70,1213.20 H770.70 M742.70,1299.75 H770.70" stroke="#000" stroke-width="1.8" fill="none"/>
<path d="M842.30,1346.90 V1365.25 M828.30,1346.90 H856.30 M828.30,1365.25 H856.30" stroke="#000" stroke-width="1.8" fill="none"/>
<path d="M927.90,1310.00 V1333.10 M913.90,1310.00 H941.90 M913.90,1333.10 H941.90" stroke="#000" stroke-width="1.8" fill="none"/>
<g fill="#000"><circle cx="243.00" cy="992.50" r="6"/><circle cx="243.00" cy="1012.25" r="6"/><circle cx="254.50" cy="1031.75" r="6"/><circle cx="231.50" cy="1039.25" r="6"/><circle cx="243.00" cy="1059.00" r="6"/><circle cx="254.50" cy="1216.10" r="6"/><circle cx="231.50" cy="1227.50" r="6"/><circle cx="243.00" cy="1282.50" r="6"/><circle cx="243.00" cy="1337.50" r="6"/><circle cx="340.25" cy="1295.25" r="6"/><circle cx="317.25" cy="1299.60" r="6"/><circle cx="328.50" cy="1315.25" r="6"/><circle cx="306.00" cy="1319.75" r="6"/><circle cx="328.50" cy="1330.60" r="6"/><circle cx="351.50" cy="1330.60" r="6"/><circle cx="306.00" cy="1332.25" r="6"/><circle cx="313.50" cy="1333.75" r="6"/><circle cx="343.50" cy="1335.00" r="6"/><circle cx="320.60" cy="1339.75" r="6"/><circle cx="336.25" cy="1345.25" r="6"/><circle cx="328.50" cy="1354.75" r="6"/><circle cx="306.00" cy="1363.75" r="6"/><circle cx="351.50" cy="1361.90" r="6"/><circle cx="321.00" cy="1372.50" r="6"/><circle cx="336.25" cy="1370.60" r="6"/><circle cx="306.00" cy="1380.40" r="6"/><circle cx="351.50" cy="1377.90" r="6"/><circle cx="321.00" cy="1390.60" r="6"/><circle cx="336.25" cy="1390.25" r="6"/><circle cx="328.50" cy="1405.40" r="6"/><circle cx="414.30" cy="926.75" r="6"/><circle cx="414.30" cy="989.25" r="6"/><circle cx="414.30" cy="1055.00" r="6"/><circle cx="414.30" cy="1079.25" r="6"/><circle cx="414.30" cy="1142.50" r="6"/><circle cx="414.30" cy="1175.10" r="6"/><circle cx="414.30" cy="1193.80" r="6"/><circle cx="414.30" cy="1246.70" r="6"/><circle cx="414.30" cy="1260.10" r="6"/><circle cx="414.30" cy="1278.30" r="6"/><circle cx="414.30" cy="1302.20" r="6"/><circle cx="414.30" cy="1316.10" r="6"/><circle cx="500.00" cy="1096.75" r="6"/><circle cx="500.00" cy="1203.10" r="6"/><circle cx="500.00" cy="1239.10" r="6"/><circle cx="488.50" cy="1252.75" r="6"/><circle cx="511.25" cy="1250.60" r="6"/><circle cx="523.10" cy="1260.00" r="6"/><circle cx="477.10" cy="1264.00" r="6"/><circle cx="492.10" cy="1270.25" r="6"/><circle cx="507.50" cy="1268.75" r="6"/><circle cx="523.10" cy="1287.75" r="6"/><circle cx="477.10" cy="1293.10" r="6"/><circle cx="507.50" cy="1294.40" r="6"/><circle cx="492.10" cy="1304.40" r="6"/><circle cx="477.10" cy="1313.75" r="6"/><circle cx="523.10" cy="1312.50" r="6"/><circle cx="507.50" cy="1316.90" r="6"/><circle cx="492.10" cy="1326.90" r="6"/><circle cx="511.25" cy="1346.90" r="6"/><circle cx="488.50" cy="1356.90" r="6"/><circle cx="585.50" cy="885.75" r="6"/><circle cx="585.50" cy="919.25" r="6"/><circle cx="597.00" cy="1080.50" r="6"/><circle cx="574.00" cy="1089.75" r="6"/><circle cx="585.50" cy="1134.00" r="6"/><circle cx="585.50" cy="1145.50" r="6"/><circle cx="585.50" cy="1161.90" r="6"/><circle cx="574.00" cy="1185.70" r="6"/><circle cx="596.70" cy="1182.60" r="6"/><circle cx="585.40" cy="1208.75" r="6"/><circle cx="585.40" cy="1224.00" r="6"/><circle cx="585.40" cy="1239.00" r="6"/><circle cx="585.40" cy="1266.60" r="6"/><circle cx="596.70" cy="1302.90" r="6"/><circle cx="574.00" cy="1307.80" r="6"/><circle cx="596.70" cy="1346.40" r="6"/><circle cx="574.00" cy="1353.20" r="6"/><circle cx="671.00" cy="1015.75" r="6"/><circle cx="671.00" cy="1035.50" r="6"/><circle cx="671.00" cy="1049.00" r="6"/><circle cx="671.00" cy="1083.00" r="6"/><circle cx="648.25" cy="1173.75" r="6"/><circle cx="671.00" cy="1186.70" r="6"/><circle cx="694.25" cy="1183.25" r="6"/><circle cx="671.00" cy="1250.00" r="6"/><circle cx="671.00" cy="1262.50" r="6"/><circle cx="671.00" cy="1284.50" r="6"/><circle cx="682.50" cy="1293.25" r="6"/><circle cx="659.50" cy="1303.75" r="6"/><circle cx="671.00" cy="1321.25" r="6"/><circle cx="682.50" cy="1332.00" r="6"/><circle cx="659.50" cy="1342.00" r="6"/><circle cx="671.00" cy="1355.00" r="6"/><circle cx="671.00" cy="1378.75" r="6"/><circle cx="756.60" cy="840.00" r="6"/><circle cx="756.60" cy="936.00" r="6"/><circle cx="756.60" cy="960.75" r="6"/><circle cx="756.60" cy="1184.80" r="6"/><circle cx="756.60" cy="1221.75" r="6"/><circle cx="756.60" cy="1240.00" r="6"/><circle cx="756.60" cy="1275.90" r="6"/><circle cx="756.60" cy="1307.50" r="6"/><circle cx="756.60" cy="1325.90" r="6"/><circle cx="756.60" cy="1337.70" r="6"/><circle cx="756.60" cy="1349.60" r="6"/><circle cx="756.60" cy="1377.60" r="6"/><circle cx="779.70" cy="1390.00" r="6"/><circle cx="734.00" cy="1395.40" r="6"/><circle cx="764.40" cy="1400.70" r="6"/><circle cx="749.25" cy="1402.70" r="6"/><circle cx="756.60" cy="1413.20" r="6"/><circle cx="842.40" cy="1252.50" r="6"/><circle cx="831.00" cy="1268.50" r="6"/><circle cx="853.60" cy="1265.00" r="6"/><circle cx="842.40" cy="1317.50" r="6"/><circle cx="819.60" cy="1324.60" r="6"/><circle cx="865.40" cy="1333.10" r="6"/><circle cx="842.40" cy="1338.75" r="6"/><circle cx="819.60" cy="1344.00" r="6"/><circle cx="830.75" cy="1344.75" r="6"/><circle cx="865.40" cy="1344.40" r="6"/><circle cx="842.40" cy="1355.60" r="6"/><circle cx="853.60" cy="1355.00" r="6"/><circle cx="819.60" cy="1367.90" r="6"/><circle cx="865.40" cy="1365.60" r="6"/><circle cx="834.75" cy="1372.75" r="6"/><circle cx="849.75" cy="1371.00" r="6"/><circle cx="819.60" cy="1388.10" r="6"/><circle cx="834.75" cy="1390.25" r="6"/><circle cx="849.75" cy="1389.00" r="6"/><circle cx="865.40" cy="1386.25" r="6"/><circle cx="819.60" cy="1401.60" r="6"/><circle cx="865.40" cy="1403.40" r="6"/><circle cx="831.00" cy="1407.75" r="6"/><circle cx="853.60" cy="1407.50" r="6"/><circle cx="842.40" cy="1411.25" r="6"/><circle cx="905.20" cy="1288.00" r="6"/><circle cx="951.20" cy="1291.70" r="6"/><circle cx="928.00" cy="1300.90" r="6"/><circle cx="905.20" cy="1323.75" r="6"/><circle cx="951.20" cy="1332.40" r="6"/><circle cx="928.00" cy="1339.90" r="6"/><circle cx="928.00" cy="1374.40" r="6"/></g>
<clipPath id="clipc"><rect x="180" y="1180" width="806.75" height="30"/></clipPath>
<path d="M186.55,1193.1 H1000" stroke="#0a0af5" stroke-width="5.7" stroke-linecap="round" stroke-dasharray="10.8 17.6" clip-path="url(#clipc)" fill="none"/>
<path d="M186.2,823 V1418.55 M169.2,1416.10 H990" stroke="#000" stroke-width="4.9" fill="none"/>
<path d="M176.7,1304.38 H186.2 M176.7,1192.66 H186.2 M176.7,1080.94 H186.2 M176.7,969.22 H186.2 M176.7,857.50 H186.2 " stroke="#000" stroke-width="5" fill="none"/>
<path d="M243.10,1416 V1433.2 M328.70,1416 V1433.2 M414.30,1416 V1433.2 M499.90,1416 V1433.2 M585.50,1416 V1433.2 M671.10,1416 V1433.2 M756.70,1416 V1433.2 M842.30,1416 V1433.2 M927.90,1416 V1433.2 " stroke="#000" stroke-width="5.2" fill="none"/>
<text transform="translate(153.82,1426.90) scale(1.0000,1)" font-size="28.70" font-weight="bold" fill="#000">0</text>
<text transform="translate(137.89,1315.18) scale(1.0000,1)" font-size="28.70" font-weight="bold" fill="#000">50</text>
<text transform="translate(121.96,1203.46) scale(1.0000,1)" font-size="28.70" font-weight="bold" fill="#000">100</text>
<text transform="translate(121.96,1091.74) scale(1.0000,1)" font-size="28.70" font-weight="bold" fill="#000">150</text>
<text transform="translate(121.96,980.02) scale(1.0000,1)" font-size="28.70" font-weight="bold" fill="#000">200</text>
<text transform="translate(121.96,868.30) scale(1.0000,1)" font-size="28.70" font-weight="bold" fill="#000">250</text>
<text transform="translate(208.20,1462.30) scale(1.0000,1)" font-size="27.72" font-weight="bold" fill="#000">Pat 1</text>
<text transform="translate(293.89,1462.30) scale(1.0000,1)" font-size="28.67" font-weight="bold" fill="#000">Pat 2</text>
<text transform="translate(379.41,1462.30) scale(1.0000,1)" font-size="28.34" font-weight="bold" fill="#000">Pat 4</text>
<text transform="translate(465.15,1462.30) scale(1.0000,1)" font-size="28.48" font-weight="bold" fill="#000">Pat 5</text>
<text transform="translate(550.64,1462.30) scale(1.0000,1)" font-size="28.60" font-weight="bold" fill="#000">Pat 6</text>
<text transform="translate(635.64,1462.30) scale(1.0000,1)" font-size="28.67" font-weight="bold" fill="#000">Pat 7</text>
<text transform="translate(713.11,1462.30) scale(1.0000,1)" font-size="29.05" font-weight="bold" fill="#000">Pat 12</text>
<text transform="translate(798.60,1462.30) scale(1.0000,1)" font-size="29.16" font-weight="bold" fill="#000">Pat 15</text>
<text transform="translate(893.14,1462.30) scale(1.0000,1)" font-size="28.60" font-weight="bold" fill="#000">Pat 9</text>
<rect x="226.6" y="827.9" width="43.6" height="28.4" fill="#a2a2a6" stroke="#000" stroke-width="1.8"/>
<rect x="226.6" y="868.4" width="43.6" height="28.8" fill="#ff0000" stroke="#000" stroke-width="1.8"/>
<text transform="translate(277.91,852.00) scale(1.0000,1)" font-size="32.13" font-weight="bold" fill="#000">PFS &gt; 24 months</text>
<text transform="translate(277.91,894.50) scale(1.0000,1)" font-size="32.13" font-weight="bold" fill="#000">PFS &lt; 24 months</text>
<text transform="translate(430.52,751.50) scale(1.0000,1)" font-size="35.15" font-weight="bold" fill="#000">PDS - Carboplatin</text>
<text transform="translate(-1.33,776.00) scale(1.0309,1)" font-size="105.00" font-weight="bold" fill="#000">c</text>
<text transform="translate(89.80,1311.59) rotate(-90) scale(1.0000,1)" font-size="35.28" font-weight="bold" fill="#000">Relative tumor size (%)</text>
<text transform="translate(302.27,1256.80) scale(1.0057,1)" font-size="45.00" font-weight="bold" fill="#000">***</text>
<text transform="translate(491.48,1043.30) scale(0.9708,1)" font-size="45.00" font-weight="bold" fill="#000">*</text>
<text transform="translate(824.78,1148.30) scale(0.9957,1)" font-size="45.00" font-weight="bold" fill="#000">**</text>
<text transform="translate(893.94,1238.75) scale(1.0000,1)" font-size="26.55" font-weight="normal" fill="#000">0,058</text>
<path d="M243.1,1490.75 V1520.5 H842.25 V1490.75 M886.9,1490.75 V1520.5 H967.1 V1490.75" stroke="#000" stroke-width="5.3" fill="none" stroke-linejoin="miter"/>
<text transform="translate(425.45,1580.00) scale(1.0000,1)" font-size="31.50" font-weight="bold" fill="#000">Primary tumors</text>
<text transform="translate(840.93,1580.00) scale(1.0000,1)" font-size="31.84" font-weight="bold" fill="#000">Metastases</text>
</g>
<g id="chart-d">
<rect x="1304.40" y="1310.80" width="88.80" height="101.70" fill="#f64141"/>
<rect x="1439.00" y="1285.30" width="88.80" height="127.20" fill="#a1a1a5"/>
<rect x="1573.10" y="1315.00" width="89.30" height="97.50" fill="#a1a1a5"/>
<rect x="1708.10" y="1341.50" width="88.80" height="71.00" fill="#a1a1a5"/>
<path d="M1349.00,1292.00 V1328.30 M1327.00,1292.00 H1371.00 M1327.00,1328.30 H1371.00" stroke="#000" stroke-width="3.2" fill="none"/>
<path d="M1483.40,1263.10 V1307.40 M1461.40,1263.10 H1505.40 M1461.40,1307.40 H1505.40" stroke="#000" stroke-width="3.2" fill="none"/>
<path d="M1617.90,1301.90 V1328.10 M1595.90,1301.90 H1639.90 M1595.90,1328.10 H1639.90" stroke="#000" stroke-width="3.2" fill="none"/>
<path d="M1752.50,1325.60 V1357.10 M1730.50,1325.60 H1774.50 M1730.50,1357.10 H1774.50" stroke="#000" stroke-width="3.2" fill="none"/>
<g fill="#000"><circle cx="1348.75" cy="1197.50" r="7.8"/><circle cx="1348.75" cy="1252.10" r="7.8"/><circle cx="1364.00" cy="1287.75" r="7.8"/><circle cx="1333.50" cy="1300.80" r="7.8"/><circle cx="1348.75" cy="1316.90" r="7.8"/><circle cx="1386.00" cy="1317.75" r="7.8"/><circle cx="1311.50" cy="1323.30" r="7.8"/><circle cx="1348.75" cy="1343.10" r="7.8"/><circle cx="1348.75" cy="1374.75" r="7.8"/><circle cx="1348.75" cy="1390.00" r="7.8"/><circle cx="1483.25" cy="1016.25" r="7.8"/><circle cx="1483.25" cy="1080.00" r="7.8"/><circle cx="1498.40" cy="1153.50" r="7.8"/><circle cx="1468.10" cy="1164.40" r="7.8"/><circle cx="1483.40" cy="1190.00" r="7.8"/><circle cx="1498.40" cy="1208.10" r="7.8"/><circle cx="1468.10" cy="1214.60" r="7.8"/><circle cx="1468.10" cy="1279.20" r="7.8"/><circle cx="1498.40" cy="1277.40" r="7.8"/><circle cx="1498.40" cy="1298.90" r="7.8"/><circle cx="1468.10" cy="1310.10" r="7.8"/><circle cx="1483.40" cy="1328.50" r="7.8"/><circle cx="1483.40" cy="1338.75" r="7.8"/><circle cx="1446.25" cy="1341.50" r="7.8"/><circle cx="1520.60" cy="1342.50" r="7.8"/><circle cx="1498.40" cy="1349.75" r="7.8"/><circle cx="1468.10" cy="1362.50" r="7.8"/><circle cx="1498.40" cy="1372.50" r="7.8"/><circle cx="1483.40" cy="1375.60" r="7.8"/><circle cx="1446.25" cy="1378.40" r="7.8"/><circle cx="1520.60" cy="1381.90" r="7.8"/><circle cx="1498.40" cy="1389.60" r="7.8"/><circle cx="1468.10" cy="1404.40" r="7.8"/><circle cx="1617.90" cy="1088.40" r="7.8"/><circle cx="1633.10" cy="1189.10" r="7.8"/><circle cx="1602.75" cy="1199.60" r="7.8"/><circle cx="1633.10" cy="1231.90" r="7.8"/><circle cx="1602.75" cy="1235.40" r="7.8"/><circle cx="1602.50" cy="1279.40" r="7.8"/><circle cx="1605.60" cy="1284.40" r="7.8"/><circle cx="1633.10" cy="1278.10" r="7.8"/><circle cx="1581.00" cy="1287.75" r="7.8"/><circle cx="1655.25" cy="1285.00" r="7.8"/><circle cx="1631.25" cy="1294.60" r="7.8"/><circle cx="1602.75" cy="1310.00" r="7.8"/><circle cx="1617.75" cy="1327.50" r="7.8"/><circle cx="1602.50" cy="1333.75" r="7.8"/><circle cx="1632.90" cy="1335.60" r="7.8"/><circle cx="1593.50" cy="1350.60" r="7.8"/><circle cx="1618.75" cy="1351.25" r="7.8"/><circle cx="1581.00" cy="1354.40" r="7.8"/><circle cx="1605.60" cy="1354.40" r="7.8"/><circle cx="1642.50" cy="1352.50" r="7.8"/><circle cx="1630.00" cy="1363.50" r="7.8"/><circle cx="1655.25" cy="1361.90" r="7.8"/><circle cx="1581.00" cy="1384.75" r="7.8"/><circle cx="1596.00" cy="1381.90" r="7.8"/><circle cx="1610.25" cy="1384.00" r="7.8"/><circle cx="1625.60" cy="1381.60" r="7.8"/><circle cx="1640.60" cy="1389.60" r="7.8"/><circle cx="1655.25" cy="1383.10" r="7.8"/><circle cx="1617.75" cy="1406.90" r="7.8"/><circle cx="1752.50" cy="1190.40" r="7.8"/><circle cx="1752.50" cy="1239.00" r="7.8"/><circle cx="1752.50" cy="1265.90" r="7.8"/><circle cx="1752.50" cy="1330.60" r="7.8"/><circle cx="1752.50" cy="1348.10" r="7.8"/><circle cx="1739.75" cy="1353.75" r="7.8"/><circle cx="1789.75" cy="1355.60" r="7.8"/><circle cx="1764.60" cy="1358.75" r="7.8"/><circle cx="1715.40" cy="1364.10" r="7.8"/><circle cx="1739.75" cy="1374.40" r="7.8"/><circle cx="1789.75" cy="1375.60" r="7.8"/><circle cx="1764.60" cy="1377.50" r="7.8"/><circle cx="1715.40" cy="1380.00" r="7.8"/><circle cx="1767.50" cy="1400.60" r="7.8"/><circle cx="1737.25" cy="1407.25" r="7.8"/></g>
<clipPath id="clipd"><rect x="1255" y="1110" width="584.5" height="30"/></clipPath>
<path d="M1260.45,1123.4 H1860" stroke="#0a0af5" stroke-width="6.2" stroke-linecap="round" stroke-dasharray="10.55 17.85" clip-path="url(#clipd)" fill="none"/>
<path d="M1259.7,829.3 V1417.3 M1242.5,1414.60 H1845.5" stroke="#000" stroke-width="5.5" fill="none"/>
<path d="M1242.5,1268.95 H1259.7 M1242.5,1123.30 H1259.7 M1242.5,977.65 H1259.7 M1242.5,832.00 H1259.7 " stroke="#000" stroke-width="5.5" fill="none"/>
<path d="M1349.00,1414.6 V1431.6 M1483.40,1414.6 V1431.6 M1617.90,1414.6 V1431.6 M1752.50,1414.6 V1431.6 " stroke="#000" stroke-width="5.4" fill="none"/>
<text transform="translate(1222.22,1425.40) scale(1.0000,1)" font-size="28.70" font-weight="bold" fill="#000">0</text>
<text transform="translate(1206.29,1279.75) scale(1.0000,1)" font-size="28.70" font-weight="bold" fill="#000">50</text>
<text transform="translate(1190.36,1134.10) scale(1.0000,1)" font-size="28.70" font-weight="bold" fill="#000">100</text>
<text transform="translate(1190.36,988.45) scale(1.0000,1)" font-size="28.70" font-weight="bold" fill="#000">150</text>
<text transform="translate(1190.36,842.80) scale(1.0000,1)" font-size="28.70" font-weight="bold" fill="#000">200</text>
<text transform="translate(1313.68,1461.30) scale(1.0000,1)" font-size="28.04" font-weight="bold" fill="#000">Pat 1</text>
<text transform="translate(1448.12,1461.30) scale(1.0000,1)" font-size="28.99" font-weight="bold" fill="#000">Pat 2</text>
<text transform="translate(1574.36,1461.30) scale(1.0000,1)" font-size="29.12" font-weight="bold" fill="#000">Pat 15</text>
<text transform="translate(1717.38,1461.30) scale(1.0000,1)" font-size="28.71" font-weight="bold" fill="#000">Pat 9</text>
<rect x="1563.4" y="860.9" width="44" height="28.8" fill="#a2a2a6" stroke="#000" stroke-width="1.8"/>
<rect x="1563.4" y="901.4" width="44" height="29.5" fill="#ff0000" stroke="#000" stroke-width="1.8"/>
<text transform="translate(1614.90,885.00) scale(1.0000,1)" font-size="32.24" font-weight="bold" fill="#000">PFS &gt; 24 months</text>
<text transform="translate(1614.90,928.25) scale(1.0000,1)" font-size="32.24" font-weight="bold" fill="#000">PFS &lt; 24 months</text>
<text transform="translate(1420.96,752.30) scale(1.0000,1)" font-size="35.25" font-weight="bold" fill="#000">PDS - Paclitaxel</text>
<text transform="translate(1058.45,776.50) scale(1.0231,1)" font-size="105.00" font-weight="bold" fill="#000">d</text>
<text transform="translate(1162.90,1310.99) rotate(-90) scale(1.0000,1)" font-size="35.22" font-weight="bold" fill="#000">Relative tumor size (%)</text>
<text transform="translate(1331.28,1168.70) scale(0.9957,1)" font-size="45.00" font-weight="bold" fill="#000">**</text>
<text transform="translate(1466.03,965.80) scale(0.9740,1)" font-size="45.00" font-weight="bold" fill="#000">**</text>
<text transform="translate(1591.02,1056.80) scale(1.0201,1)" font-size="45.00" font-weight="bold" fill="#000">***</text>
<text transform="translate(1725.77,1169.00) scale(1.0105,1)" font-size="45.00" font-weight="bold" fill="#000">***</text>
<path d="M1349.1,1489.25 V1514 H1618.1 V1489.25 M1708.1,1489.25 V1514 H1796.4 V1489.25" stroke="#000" stroke-width="5.5" fill="none"/>
<text transform="translate(1365.45,1560.00) scale(1.0000,1)" font-size="31.61" font-weight="bold" fill="#000">Primary tumors</text>
<text transform="translate(1665.42,1559.75) scale(1.0000,1)" font-size="31.93" font-weight="bold" fill="#000">Metastases</text>
</g>
</svg>
</body></html>
